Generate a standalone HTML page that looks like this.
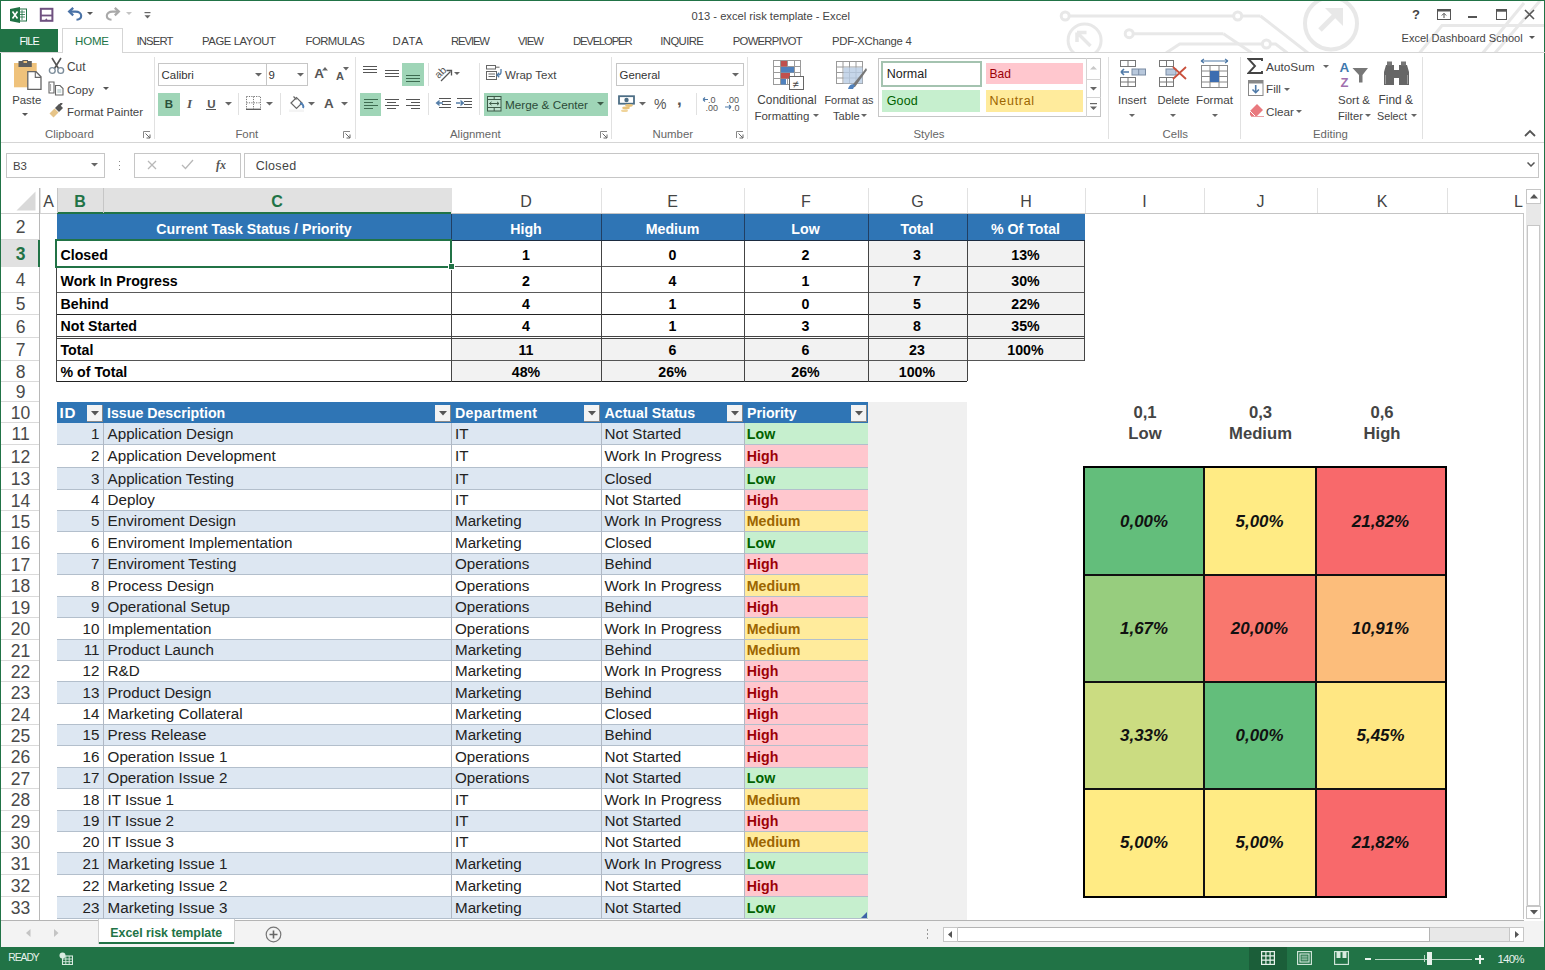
<!DOCTYPE html><html><head><meta charset="utf-8"><style>
html,body{margin:0;padding:0;}
body{width:1545px;height:970px;overflow:hidden;position:relative;background:#fff;font-family:"Liberation Sans", sans-serif;}
.a{position:absolute;}
.t{position:absolute;white-space:nowrap;}
</style></head><body>
<svg class="a" style="left:1040px;top:0px;" width="505" height="53" viewBox="0 0 505 53">
<g stroke="#e8e8e8" stroke-width="3" fill="none">
<circle cx="25.2" cy="16" r="4"/><line x1="29" y1="16" x2="194" y2="16"/>
<circle cx="197.7" cy="16" r="4"/><line x1="201.5" y1="16" x2="220.5" y2="16"/><line x1="220.5" y1="16" x2="268" y2="53"/>
<circle cx="44.6" cy="40.4" r="16.5"/><path d="M50.5 46 L38 33.5 M37 32.5 V42 M37 32.5 H46.5" stroke-width="3.5"/>
<circle cx="89.2" cy="33.7" r="4"/><line x1="93" y1="33.7" x2="183.4" y2="33.7"/><line x1="183.4" y1="33.7" x2="212" y2="53"/>
<path d="M126 53 L139.7 44 L222.6 44"/><circle cx="226.4" cy="44" r="4"/><path d="M230 44 L235.6 44 L247.4 53"/>
<circle cx="291" cy="23.4" r="26" stroke-width="4"/><path d="M280 30 L298 12" stroke-width="5"/><path d="M285 8 H303 V26 Z" fill="#e8e8e8" stroke="none"/>
<path d="M379.6 53 L402 25.5 L505 25.5"/><line x1="442.8" y1="53" x2="484" y2="3"/><line x1="455" y1="53" x2="505" y2="-5"/>
</g></svg>
<div class="a" style="left:0;top:0;width:1545px;height:1px;background:#217346"></div>
<div class="a" style="left:0;top:0;width:1px;height:970px;background:#217346"></div>
<div class="a" style="left:1544px;top:0;width:1px;height:970px;background:#217346"></div>
<svg class="a" style="left:10px;top:7px;" width="17" height="16" viewBox="0 0 17 16"><rect x="7" y="2" width="9.5" height="12" fill="#fff" stroke="#207245" stroke-width="1"/>
<path d="M9 5h6M9 7.5h6M9 10h6M12 3v10" stroke="#207245" stroke-width="0.8"/>
<path d="M0 2 L10 0 L10 16 L0 14 Z" fill="#207245"/>
<path d="M2.5 4.5 L7.5 11.5 M7.5 4.5 L2.5 11.5" stroke="#fff" stroke-width="1.6"/></svg>
<svg class="a" style="left:39px;top:7px;" width="15" height="15" viewBox="0 0 15 15"><rect x="1.8" y="1.8" width="11.6" height="12" fill="#fff" stroke="#6f5180" stroke-width="2"/>
<rect x="1.8" y="7.6" width="11.6" height="1.8" fill="#6f5180"/><path d="M5.5 13.8 L7.3 11.3 L9.1 13.8 Z" fill="#6f5180"/></svg>
<svg class="a" style="left:67px;top:7px;" width="16" height="15" viewBox="0 0 16 15"><path d="M2.5 4.6 H8.5 C12 4.6 14.2 6.5 14.2 8.8 C14.2 11 12.3 12.6 9.5 12.8" fill="none" stroke="#4a72a6" stroke-width="2.1"/>
<path d="M6.2 0.9 L2.2 4.6 L6.2 8.3" fill="none" stroke="#4a72a6" stroke-width="2.3"/></svg>
<svg class="a" style="left:87px;top:12px;" width="6" height="4" viewBox="0 0 6 4"><path d="M0 0h6l-3 3z" fill="#555"/></svg>
<svg class="a" style="left:105px;top:7px;" width="16" height="15" viewBox="0 0 16 15"><path d="M13.5 4.6 H7.5 C4 4.6 1.8 6.5 1.8 8.8 C1.8 11 3.7 12.6 6.5 12.8" fill="none" stroke="#a9a9a9" stroke-width="2.1"/>
<path d="M9.8 0.9 L13.8 4.6 L9.8 8.3" fill="none" stroke="#a9a9a9" stroke-width="2.3"/></svg>
<svg class="a" style="left:126px;top:12px;" width="6" height="4" viewBox="0 0 6 4"><path d="M0 0h6l-3 3z" fill="#c4c4c4"/></svg>
<svg class="a" style="left:144px;top:12px;" width="7" height="8" viewBox="0 0 7 8"><rect x="0.5" y="0" width="6" height="1.2" fill="#666"/><path d="M0.5 3.2h6l-3 3.2z" fill="#666"/></svg>
<div class="t" style="top:-4.50px;height:40px;line-height:40px;font-size:11.18px;color:#444;left:691.60px;">013 - excel risk template - Excel</div>
<div class="t" style="top:-5.00px;height:40px;line-height:40px;font-size:13px;color:#444;font-weight:bold;left:1406.00px;width:20px;text-align:center;">?</div>
<svg class="a" style="left:1437px;top:9px;" width="15" height="12" viewBox="0 0 15 12"><rect x="0.5" y="0.5" width="13" height="10" fill="none" stroke="#555" stroke-width="1"/><rect x="0.5" y="0.5" width="13" height="2" fill="#555"/><path d="M7 9V4.5M4.8 6.5L7 4.3L9.2 6.5" stroke="#555" stroke-width="1" fill="none"/></svg>
<div class="a" style="left:1468px;top:16px;width:9px;height:2px;background:#555;"></div>
<svg class="a" style="left:1496px;top:9px;" width="11" height="11" viewBox="0 0 11 11"><rect x="0.5" y="0.5" width="10" height="10" fill="none" stroke="#555" stroke-width="1"/><rect x="0.5" y="0.5" width="10" height="2.2" fill="#555"/></svg>
<svg class="a" style="left:1524px;top:9px;" width="11" height="11" viewBox="0 0 11 11"><path d="M1 1L10 10M10 1L1 10" stroke="#555" stroke-width="1.6"/></svg>
<div class="a" style="left:1px;top:29px;width:57px;height:23px;background:#217346;"></div>
<div class="t" style="top:20.50px;height:40px;line-height:40px;font-size:10.8px;color:#ffffff;letter-spacing:-0.836px;left:19.40px;">FILE</div>
<div class="a" style="left:62px;top:28px;width:61px;height:25px;background:#fff;border:1px solid #d5d5d5;border-bottom:none;box-sizing:border-box;"></div>
<div class="t" style="top:20.50px;height:40px;line-height:40px;font-size:11.5px;color:#217346;letter-spacing:-0.167px;left:75.00px;">HOME</div>
<div class="t" style="top:20.50px;height:40px;line-height:40px;font-size:11.3px;color:#444;letter-spacing:-0.847px;left:136.50px;">INSERT</div>
<div class="t" style="top:20.50px;height:40px;line-height:40px;font-size:11.3px;color:#444;letter-spacing:-0.408px;left:202.00px;">PAGE LAYOUT</div>
<div class="t" style="top:20.50px;height:40px;line-height:40px;font-size:11.3px;color:#444;letter-spacing:-0.512px;left:305.50px;">FORMULAS</div>
<div class="t" style="top:20.50px;height:40px;line-height:40px;font-size:11.3px;color:#444;letter-spacing:0.613px;left:392.40px;">DATA</div>
<div class="t" style="top:20.50px;height:40px;line-height:40px;font-size:11.3px;color:#444;letter-spacing:-1.116px;left:451.00px;">REVIEW</div>
<div class="t" style="top:20.50px;height:40px;line-height:40px;font-size:11.3px;color:#444;letter-spacing:-0.960px;left:518.00px;">VIEW</div>
<div class="t" style="top:20.50px;height:40px;line-height:40px;font-size:11.3px;color:#444;letter-spacing:-1.185px;left:573.00px;">DEVELOPER</div>
<div class="t" style="top:20.50px;height:40px;line-height:40px;font-size:11.3px;color:#444;letter-spacing:-0.598px;left:660.30px;">INQUIRE</div>
<div class="t" style="top:20.50px;height:40px;line-height:40px;font-size:11.3px;color:#444;letter-spacing:-0.744px;left:732.80px;">POWERPIVOT</div>
<div class="t" style="top:20.50px;height:40px;line-height:40px;font-size:11.3px;color:#444;letter-spacing:-0.259px;left:832.00px;">PDF-XChange 4</div>
<div class="t" style="top:18.00px;height:40px;line-height:40px;font-size:11.07px;color:#444;left:1401.50px;">Excel Dashboard School</div>
<svg class="a" style="left:1529px;top:36px;" width="6" height="4" viewBox="0 0 6 4"><path d="M0 0h6l-3 3z" fill="#555"/></svg>
<div class="a" style="left:0px;top:52px;width:62px;height:1px;background:#d5d5d5;"></div>
<div class="a" style="left:123px;top:52px;width:1422px;height:1px;background:#d5d5d5;"></div>
<div class="a" style="left:1px;top:142px;width:1543px;height:1px;background:#d5d5d5;"></div>
<div class="a" style="left:154px;top:57px;width:1px;height:82px;background:#e1e1e1;"></div>
<div class="a" style="left:355px;top:57px;width:1px;height:82px;background:#e1e1e1;"></div>
<div class="a" style="left:611px;top:57px;width:1px;height:82px;background:#e1e1e1;"></div>
<div class="a" style="left:747px;top:57px;width:1px;height:82px;background:#e1e1e1;"></div>
<div class="a" style="left:1108px;top:57px;width:1px;height:82px;background:#e1e1e1;"></div>
<div class="a" style="left:1240px;top:57px;width:1px;height:82px;background:#e1e1e1;"></div>
<div class="a" style="left:1422px;top:57px;width:1px;height:82px;background:#e1e1e1;"></div>
<div class="t" style="top:114.00px;height:40px;line-height:40px;font-size:11.4px;color:#666;left:45.00px;">Clipboard</div>
<div class="t" style="top:114.00px;height:40px;line-height:40px;font-size:11.4px;color:#666;left:235.40px;">Font</div>
<div class="t" style="top:114.00px;height:40px;line-height:40px;font-size:11.4px;color:#666;left:450.00px;">Alignment</div>
<div class="t" style="top:114.00px;height:40px;line-height:40px;font-size:11.4px;color:#666;left:652.50px;">Number</div>
<div class="t" style="top:114.00px;height:40px;line-height:40px;font-size:11.4px;color:#666;left:913.50px;">Styles</div>
<div class="t" style="top:114.00px;height:40px;line-height:40px;font-size:11.4px;color:#666;left:1162.60px;">Cells</div>
<div class="t" style="top:114.00px;height:40px;line-height:40px;font-size:11.4px;color:#666;left:1313.00px;">Editing</div>
<svg class="a" style="left:143px;top:131px;" width="8" height="8" viewBox="0 0 8 8"><path d="M0.5 7V0.5H7" fill="none" stroke="#888" stroke-width="1"/><path d="M2.5 2.5L7 7M7 3.5V7H3.5" fill="none" stroke="#666" stroke-width="1"/></svg>
<svg class="a" style="left:343px;top:131px;" width="8" height="8" viewBox="0 0 8 8"><path d="M0.5 7V0.5H7" fill="none" stroke="#888" stroke-width="1"/><path d="M2.5 2.5L7 7M7 3.5V7H3.5" fill="none" stroke="#666" stroke-width="1"/></svg>
<svg class="a" style="left:600px;top:131px;" width="8" height="8" viewBox="0 0 8 8"><path d="M0.5 7V0.5H7" fill="none" stroke="#888" stroke-width="1"/><path d="M2.5 2.5L7 7M7 3.5V7H3.5" fill="none" stroke="#666" stroke-width="1"/></svg>
<svg class="a" style="left:736px;top:131px;" width="8" height="8" viewBox="0 0 8 8"><path d="M0.5 7V0.5H7" fill="none" stroke="#888" stroke-width="1"/><path d="M2.5 2.5L7 7M7 3.5V7H3.5" fill="none" stroke="#666" stroke-width="1"/></svg>
<svg class="a" style="left:1524px;top:129px;" width="12" height="8" viewBox="0 0 12 8"><path d="M1 7L6 2L11 7" fill="none" stroke="#555" stroke-width="1.8"/></svg>
<svg class="a" style="left:13px;top:59px;" width="29" height="32" viewBox="0 0 29 32">
<rect x="1" y="4" width="22.7" height="24.3" fill="#efc27b"/>
<path d="M5.5 2 H9.4 V1 H15 V2 H18.8 V8 H5.5 Z" fill="#5e5e5e"/>
<rect x="10.5" y="2" width="3.5" height="2" fill="#efc27b"/>
<path d="M14.8 12.7 H23 L28 17.7 V30.3 H14.8 Z" fill="#fff" stroke="#666" stroke-width="1.3"/>
<path d="M22.3 12.7 V18.4 H28" fill="none" stroke="#666" stroke-width="1.1"/>
</svg>
<div class="t" style="top:80.00px;height:40px;line-height:40px;font-size:11.4px;color:#444;left:12.20px;">Paste</div>
<svg class="a" style="left:22px;top:113px;" width="6" height="4" viewBox="0 0 6 4"><path d="M0 0h6l-3 3z" fill="#555"/></svg>
<svg class="a" style="left:48px;top:57px;" width="17" height="18" viewBox="0 0 17 18">
<path d="M4 1 L10.5 11.5 M13 1 L6.5 11.5" stroke="#555" stroke-width="1.6" fill="none"/>
<circle cx="4.3" cy="13.5" r="2.9" fill="none" stroke="#7b8c9a" stroke-width="1.4"/>
<circle cx="12.7" cy="13.5" r="2.9" fill="none" stroke="#7b8c9a" stroke-width="1.4"/></svg>
<div class="t" style="top:47.00px;height:40px;line-height:40px;font-size:11.9px;color:#444;left:67.00px;">Cut</div>
<svg class="a" style="left:48px;top:81px;" width="17" height="15" viewBox="0 0 17 15">
<path d="M1 1 H6 V12 H1 Z" fill="#fff" stroke="#666" stroke-width="1.1"/>
<path d="M2.6 3v7" stroke="#888" stroke-width="0.8"/>
<path d="M7.5 4.5 H12 L15 7.5 V14 H7.5 Z" fill="#fff" stroke="#666" stroke-width="1.1"/>
<path d="M9.3 9h4M9.3 11h4" stroke="#8aa" stroke-width="0.8"/></svg>
<div class="t" style="top:69.50px;height:40px;line-height:40px;font-size:11.6px;color:#444;left:67.00px;">Copy</div>
<svg class="a" style="left:103px;top:87px;" width="6" height="4" viewBox="0 0 6 4"><path d="M0 0h6l-3 3z" fill="#555"/></svg>
<svg class="a" style="left:48px;top:103px;" width="17" height="15" viewBox="0 0 17 15">
<path d="M1.5 10.5 L6.5 5.5 L10.5 9.5 L5.5 14.5 Z" fill="#e6c488"/>
<path d="M7 5 L11 1 L15 5 L11 9 Z" fill="#555"/>
<path d="M11.5 2.5 L14 0" stroke="#555" stroke-width="2.2"/></svg>
<div class="t" style="top:91.50px;height:40px;line-height:40px;font-size:11.5px;color:#444;left:67.00px;">Format Painter</div>
<div class="a" style="left:158px;top:63px;width:109px;height:23px;background:#fff;border:1px solid #c6c6c6;box-sizing:border-box;"></div>
<div class="t" style="top:54.50px;height:40px;line-height:40px;font-size:11.4px;color:#333;left:161.60px;">Calibri</div>
<svg class="a" style="left:255px;top:73px;" width="7" height="4" viewBox="0 0 7 4"><path d="M0 0h7l-3.5 3.5z" fill="#666"/></svg>
<div class="a" style="left:266px;top:63px;width:42px;height:23px;background:#fff;border:1px solid #c6c6c6;box-sizing:border-box;"></div>
<div class="t" style="top:54.50px;height:40px;line-height:40px;font-size:11.4px;color:#333;left:268.40px;">9</div>
<svg class="a" style="left:297px;top:73px;" width="7" height="4" viewBox="0 0 7 4"><path d="M0 0h7l-3.5 3.5z" fill="#666"/></svg>
<div class="t" style="top:54.00px;height:40px;line-height:40px;font-size:13.5px;color:#555;left:314.20px;font-weight:bold;">A</div>
<svg class="a" style="left:322px;top:67px;" width="6" height="4" viewBox="0 0 6 4"><path d="M0 3.5h6l-3-3.5z" fill="#666"/></svg>
<div class="t" style="top:55.50px;height:40px;line-height:40px;font-size:11px;color:#555;left:336.00px;font-weight:bold;">A</div>
<svg class="a" style="left:343px;top:67px;" width="6" height="4" viewBox="0 0 6 4"><path d="M0 0h6l-3 3.5z" fill="#666"/></svg>
<div class="a" style="left:158px;top:93px;width:22px;height:23px;background:#9fd5b7;"></div>
<div class="t" style="top:83.80px;height:40px;line-height:40px;font-size:11.5px;color:#2b503a;font-weight:bold;left:159.00px;width:20px;text-align:center;">B</div>
<div class="t" style="top:83.80px;height:40px;line-height:40px;font-size:13px;color:#555;font-style:italic;left:179.50px;width:20px;text-align:center;font-family:'Liberation Serif',serif;font-weight:bold;">I</div>
<div class="t" style="top:83.50px;height:40px;line-height:40px;font-size:11.5px;color:#555;font-weight:bold;left:201.30px;width:20px;text-align:center;">U</div>
<div class="a" style="left:206px;top:109px;width:10px;height:1px;background:#555;"></div>
<svg class="a" style="left:225px;top:102px;" width="7" height="4" viewBox="0 0 7 4"><path d="M0 0h7l-3.5 3.5z" fill="#666"/></svg>
<div class="a" style="left:238px;top:93px;width:1px;height:22px;background:#e1e1e1;"></div>
<svg class="a" style="left:246px;top:96px;" width="15" height="14" viewBox="0 0 15 14"><g fill="none" stroke="#777" stroke-width="1" stroke-dasharray="1.2 1.2">
<path d="M0.5 0.5H14.5V13M0.5 0.5V13M7.5 0.5V13M0.5 6.8H14.5"/></g><path d="M0 13.3H15" stroke="#555" stroke-width="1.3"/></svg>
<svg class="a" style="left:266px;top:102px;" width="7" height="4" viewBox="0 0 7 4"><path d="M0 0h7l-3.5 3.5z" fill="#666"/></svg>
<div class="a" style="left:280px;top:93px;width:1px;height:22px;background:#e1e1e1;"></div>
<svg class="a" style="left:288px;top:95px;" width="17" height="17" viewBox="0 0 17 17"><path d="M3 8 L8.5 2.5 L14 8 L8.5 13.5 Z" fill="#fff" stroke="#666" stroke-width="1.2"/>
<path d="M5.5 1.5 L8.5 4.5" stroke="#666" stroke-width="1.2"/>
<path d="M12 8 C 15 9, 16 11, 15 13" stroke="#4f7fb5" stroke-width="2" fill="none"/>
<rect x="1" y="14.5" width="15" height="2.5" fill="#f4f4f4"/></svg>
<svg class="a" style="left:308px;top:102px;" width="7" height="4" viewBox="0 0 7 4"><path d="M0 0h7l-3.5 3.5z" fill="#666"/></svg>
<div class="t" style="top:83.50px;height:40px;line-height:40px;font-size:13.5px;color:#555;font-weight:bold;left:324.00px;">A</div>
<svg class="a" style="left:341px;top:102px;" width="7" height="4" viewBox="0 0 7 4"><path d="M0 0h7l-3.5 3.5z" fill="#666"/></svg>
<div class="a" style="left:363px;top:66px;width:14px;height:1.3px;background:#555;"></div>
<div class="a" style="left:363px;top:69px;width:14px;height:1.3px;background:#555;"></div>
<div class="a" style="left:363px;top:72px;width:14px;height:1.3px;background:#555;"></div>
<div class="a" style="left:385px;top:70px;width:13.5px;height:1.3px;background:#555;"></div>
<div class="a" style="left:385px;top:73px;width:13.5px;height:1.3px;background:#555;"></div>
<div class="a" style="left:385px;top:76px;width:13.5px;height:1.3px;background:#555;"></div>
<div class="a" style="left:402px;top:63px;width:22px;height:23px;background:#9fd5b7;"></div>
<div class="a" style="left:406px;top:75px;width:13.5px;height:1.3px;background:#3d6b50;"></div>
<div class="a" style="left:406px;top:78px;width:13.5px;height:1.3px;background:#3d6b50;"></div>
<div class="a" style="left:406px;top:81px;width:13.5px;height:1.3px;background:#3d6b50;"></div>
<div class="a" style="left:428px;top:63px;width:1px;height:23px;background:#e1e1e1;"></div>
<svg class="a" style="left:434px;top:65px;" width="19" height="17" viewBox="0 0 19 17"><g transform="rotate(-45 6.5 7.5)"><text x="6.5" y="11" text-anchor="middle" font-family="Liberation Sans" font-size="10.5" fill="#555">ab</text></g>
<path d="M7 16 L16.5 6.5" stroke="#555" stroke-width="1.3"/><path d="M12.5 5.5 L17.5 5.5 L17.5 10.5" fill="none" stroke="#555" stroke-width="1.3"/></svg>
<svg class="a" style="left:454px;top:72px;" width="6" height="4" viewBox="0 0 6 4"><path d="M0 0h6l-3 3z" fill="#666"/></svg>
<div class="a" style="left:360px;top:93px;width:21px;height:23px;background:#9fd5b7;"></div>
<div class="a" style="left:364px;top:99px;width:13.5px;height:1.3px;background:#3d6b50;"></div>
<div class="a" style="left:364px;top:102px;width:9px;height:1.3px;background:#3d6b50;"></div>
<div class="a" style="left:364px;top:105px;width:13.5px;height:1.3px;background:#3d6b50;"></div>
<div class="a" style="left:364px;top:108px;width:9px;height:1.3px;background:#3d6b50;"></div>
<div class="a" style="left:385.0px;top:99px;width:13.5px;height:1.3px;background:#555;"></div>
<div class="a" style="left:387.2px;top:102px;width:9px;height:1.3px;background:#555;"></div>
<div class="a" style="left:385.0px;top:105px;width:13.5px;height:1.3px;background:#555;"></div>
<div class="a" style="left:387.2px;top:108px;width:9px;height:1.3px;background:#555;"></div>
<div class="a" style="left:406.0px;top:99px;width:13.5px;height:1.3px;background:#555;"></div>
<div class="a" style="left:410.5px;top:102px;width:9px;height:1.3px;background:#555;"></div>
<div class="a" style="left:406.0px;top:105px;width:13.5px;height:1.3px;background:#555;"></div>
<div class="a" style="left:410.5px;top:108px;width:9px;height:1.3px;background:#555;"></div>
<div class="a" style="left:428px;top:93px;width:1px;height:22px;background:#e1e1e1;"></div>
<svg class="a" style="left:435px;top:97px;" width="17" height="14" viewBox="0 0 17 14"><path d="M4 1.5H16M7 4.5H16M7 7.5H16M4 10.5H16" stroke="#555" stroke-width="1.1"/><path d="M0.5 6 L4.5 2.8 V9.2 Z M3 5.3H8V6.7H3Z" fill="#557ea8"/></svg>
<svg class="a" style="left:456px;top:97px;" width="17" height="14" viewBox="0 0 17 14"><path d="M1 1.5H16M8 4.5H16M8 7.5H16M1 10.5H16" stroke="#555" stroke-width="1.1"/><path d="M8.5 6 L4.5 2.8 V9.2 Z M0 5.3H5V6.7H0Z" fill="#557ea8"/></svg>
<div class="a" style="left:479px;top:63px;width:1px;height:52px;background:#e1e1e1;"></div>
<svg class="a" style="left:486px;top:65px;" width="17" height="15" viewBox="0 0 17 15"><g fill="none" stroke="#666" stroke-width="1"><rect x="0.5" y="0.5" width="9" height="3.5"/><path d="M9.5 2.2H13.5"/><rect x="0.5" y="6.5" width="10" height="8"/><path d="M2.5 9H9M2.5 11.5H9"/></g>
<path d="M15 4 V7 C15 9.5 13.5 10 11.5 10" fill="none" stroke="#4f7aa8" stroke-width="1.3"/><path d="M13.2 7.8 L11 10 L13.2 12.2" fill="none" stroke="#4f7aa8" stroke-width="1.3"/></svg>
<div class="t" style="top:54.50px;height:40px;line-height:40px;font-size:11.5px;color:#444;left:505.00px;">Wrap Text</div>
<div class="a" style="left:484px;top:93px;width:124px;height:23px;background:#9fd5b7;"></div>
<svg class="a" style="left:487px;top:96px;" width="15" height="16" viewBox="0 0 15 16"><rect x="0.5" y="0.5" width="13.5" height="14.5" fill="#fff" fill-opacity="0.35" stroke="#3d5b48" stroke-width="1"/>
<path d="M0.5 3.5H14M0.5 11.5H14M7.2 0.5V3.5M7.2 11.5V15" fill="none" stroke="#3d5b48" stroke-width="1"/>
<path d="M2.5 7.5H12M2.5 7.5l2-1.6M2.5 7.5l2 1.6M12 7.5l-2-1.6M12 7.5l-2 1.6" fill="none" stroke="#3d5b48" stroke-width="1"/></svg>
<div class="t" style="top:84.50px;height:40px;line-height:40px;font-size:11.76px;color:#2b4a38;left:505.00px;">Merge &amp; Center</div>
<svg class="a" style="left:597px;top:102px;" width="7" height="4" viewBox="0 0 7 4"><path d="M0 0h7l-3.5 3.5z" fill="#3d5b48"/></svg>
<div class="a" style="left:616px;top:63px;width:128px;height:23px;background:#fff;border:1px solid #c6c6c6;box-sizing:border-box;"></div>
<div class="t" style="top:54.50px;height:40px;line-height:40px;font-size:11.4px;color:#333;left:619.60px;">General</div>
<svg class="a" style="left:732px;top:73px;" width="7" height="4" viewBox="0 0 7 4"><path d="M0 0h7l-3.5 3.5z" fill="#666"/></svg>
<svg class="a" style="left:618px;top:95px;" width="18" height="18" viewBox="0 0 18 18"><rect x="1" y="1.2" width="15" height="7.5" fill="#fff" stroke="#4d6e85" stroke-width="1.8"/>
<circle cx="8.5" cy="5" r="2.2" fill="#4d6e85"/>
<ellipse cx="11" cy="10.5" rx="3.8" ry="1.4" fill="#e8c27a"/><ellipse cx="8" cy="13" rx="3.8" ry="1.4" fill="#e8c27a"/><ellipse cx="6.5" cy="15.8" rx="3.5" ry="1.3" fill="#f0d49a"/></svg>
<svg class="a" style="left:639px;top:102px;" width="7" height="4" viewBox="0 0 7 4"><path d="M0 0h7l-3.5 3.5z" fill="#666"/></svg>
<div class="t" style="top:84.00px;height:40px;line-height:40px;font-size:14px;color:#555;left:654.00px;">%</div>
<div class="t" style="top:80.00px;height:40px;line-height:40px;font-size:17px;color:#555;font-weight:bold;left:677.00px;">,</div>
<div class="a" style="left:696px;top:93px;width:1px;height:22px;background:#e1e1e1;"></div>
<svg class="a" style="left:702px;top:95px;" width="17" height="17" viewBox="0 0 17 17"><text x="6" y="8" font-family="Liberation Sans" font-size="9" fill="#555">.0</text><text x="3.5" y="15.5" font-family="Liberation Sans" font-size="9" fill="#555">.00</text>
<path d="M1 4.5H6M1 4.5l2-2M1 4.5l2 2" fill="none" stroke="#4f7aa8" stroke-width="1.1"/></svg>
<svg class="a" style="left:724px;top:95px;" width="17" height="17" viewBox="0 0 17 17"><text x="2.5" y="8" font-family="Liberation Sans" font-size="9" fill="#555">.00</text><text x="8" y="15.5" font-family="Liberation Sans" font-size="9" fill="#555">.0</text>
<path d="M1 12H7M7 12l-2-2M7 12l-2 2" fill="none" stroke="#4f7aa8" stroke-width="1.1"/></svg>
<svg class="a" style="left:772px;top:59px;" width="33" height="32" viewBox="0 0 33 32"><g fill="none" stroke="#9a9a9a" stroke-width="1"><rect x="1.5" y="1.5" width="27" height="24"/>
<path d="M1.5 7.5H28.5M1.5 13.5H28.5M1.5 19.5H28.5M8.5 1.5V25.5M15.5 1.5V25.5M22.5 1.5V25.5"/></g>
<rect x="9" y="2" width="6" height="5.5" fill="#c0504d"/><rect x="9" y="8" width="13" height="5.5" fill="#4f81bd"/><rect x="9" y="14" width="9" height="5.5" fill="#c0504d"/><rect x="9" y="20" width="5" height="5.5" fill="#4f81bd"/>
<rect x="17.5" y="17.5" width="14" height="13" fill="#fff" stroke="#666" stroke-width="1"/>
<text x="20.5" y="28.5" font-family="Liberation Sans" font-size="11" fill="#444">≠</text></svg>
<div class="t" style="top:80.00px;height:40px;line-height:40px;font-size:11.85px;color:#444;left:757.30px;">Conditional</div>
<div class="t" style="top:95.50px;height:40px;line-height:40px;font-size:11.5px;color:#444;left:754.40px;">Formatting</div>
<svg class="a" style="left:813px;top:114px;" width="6" height="4" viewBox="0 0 6 4"><path d="M0 0h6l-3 3z" fill="#666"/></svg>
<svg class="a" style="left:835px;top:60px;" width="33" height="31" viewBox="0 0 33 31"><g fill="none" stroke="#9a9a9a" stroke-width="1"><rect x="1.5" y="1.5" width="26" height="22"/>
<path d="M1.5 7H27.5M1.5 12.5H27.5M1.5 18H27.5M8 1.5V23.5M14.5 1.5V23.5M21 1.5V23.5"/></g>
<rect x="8.5" y="7.5" width="19" height="16" fill="#b8cce4" opacity="0.8"/>
<path d="M15 28 L28 12 L31 8 L32 10 L20 27 Z" fill="#777"/><path d="M13 29 C 14 25, 17 23, 20 25 L 18 29 Z" fill="#4f81bd"/></svg>
<div class="t" style="top:80.00px;height:40px;line-height:40px;font-size:10.93px;color:#444;left:824.40px;">Format as</div>
<div class="t" style="top:95.50px;height:40px;line-height:40px;font-size:11.2px;color:#444;left:833.00px;">Table</div>
<svg class="a" style="left:861px;top:114px;" width="6" height="4" viewBox="0 0 6 4"><path d="M0 0h6l-3 3z" fill="#666"/></svg>
<div class="a" style="left:878px;top:58px;width:223px;height:59px;background:#fff;border:1px solid #c6c6c6;box-sizing:border-box;"></div>
<div class="a" style="left:881px;top:61px;width:101px;height:26px;background:#fff;border:2px solid #a4c3b0;box-sizing:border-box;"></div>
<div class="t" style="top:54.00px;height:40px;line-height:40px;font-size:12.5px;color:#222;left:886.70px;">Normal</div>
<div class="a" style="left:986px;top:63px;width:97px;height:21px;background:#ffc7ce;"></div>
<div class="t" style="top:54.00px;height:40px;line-height:40px;font-size:12.03px;color:#9c0006;left:989.60px;">Bad</div>
<div class="a" style="left:882px;top:90px;width:98px;height:22px;background:#c6efce;"></div>
<div class="t" style="top:81.00px;height:40px;line-height:40px;font-size:12.5px;color:#006100;letter-spacing:0.140px;left:886.70px;">Good</div>
<div class="a" style="left:986px;top:90px;width:97px;height:22px;background:#ffeb9c;"></div>
<div class="t" style="top:81.00px;height:40px;line-height:40px;font-size:12.5px;color:#9c6500;letter-spacing:0.701px;left:989.60px;">Neutral</div>
<div class="a" style="left:1086px;top:58px;width:1px;height:59px;background:#d4d4d4;"></div>
<div class="a" style="left:1086px;top:79px;width:15px;height:1px;background:#d4d4d4;"></div>
<div class="a" style="left:1086px;top:97px;width:15px;height:1px;background:#d4d4d4;"></div>
<svg class="a" style="left:1090px;top:66px;" width="7" height="4" viewBox="0 0 7 4"><path d="M0 3.5h7l-3.5-3.5z" fill="#c8c8c8"/></svg>
<svg class="a" style="left:1090px;top:87px;" width="7" height="4" viewBox="0 0 7 4"><path d="M0 0h7l-3.5 3.5z" fill="#666"/></svg>
<svg class="a" style="left:1090px;top:103px;" width="7" height="8" viewBox="0 0 7 8"><rect x="0" y="0" width="7" height="1.2" fill="#666"/><path d="M0 3.5h7l-3.5 3.5z" fill="#666"/></svg>
<svg class="a" style="left:1119px;top:59px;" width="28" height="29" viewBox="0 0 28 29"><g fill="none" stroke="#777" stroke-width="1"><rect x="1.5" y="1.5" width="15" height="6"/><path d="M9 1.5V7.5"/>
<rect x="1.5" y="18.5" width="15" height="9"/><path d="M1.5 23H16.5M9 18.5V27.5"/></g>
<rect x="13" y="10" width="13.5" height="6" fill="#b8c8dc" stroke="#7a8ca3" stroke-width="1"/><path d="M19.7 10V16"  stroke="#7a8ca3" stroke-width="1"/>
<path d="M2 13H10M2 13l3-3M2 13l3 3" fill="none" stroke="#4f7aa8" stroke-width="1.6"/></svg>
<div class="t" style="top:80.00px;height:40px;line-height:40px;font-size:11.36px;color:#444;left:1118.00px;">Insert</div>
<svg class="a" style="left:1129px;top:114px;" width="6" height="4" viewBox="0 0 6 4"><path d="M0 0h6l-3 3z" fill="#666"/></svg>
<svg class="a" style="left:1158px;top:59px;" width="33" height="30" viewBox="0 0 33 30"><g fill="none" stroke="#777" stroke-width="1"><rect x="1.5" y="1.5" width="14" height="6"/><path d="M8.5 1.5V7.5"/>
<rect x="1.5" y="18.5" width="14" height="9"/><path d="M1.5 23H15.5M8.5 18.5V27.5"/></g>
<rect x="8" y="10" width="10" height="6" fill="#b8c8dc" stroke="#7a8ca3" stroke-width="1"/>
<path d="M15 8 L28 20 M28 8 L15 20" stroke="#c9503c" stroke-width="1.8"/></svg>
<div class="t" style="top:80.00px;height:40px;line-height:40px;font-size:11.1px;color:#444;left:1157.40px;">Delete</div>
<svg class="a" style="left:1170px;top:114px;" width="6" height="4" viewBox="0 0 6 4"><path d="M0 0h6l-3 3z" fill="#666"/></svg>
<svg class="a" style="left:1200px;top:58px;" width="29" height="32" viewBox="0 0 29 32"><path d="M1 3H28M1 3l3-2M1 3l3 2M28 3l-3-2M28 3l-3 2" fill="none" stroke="#4f7aa8" stroke-width="1.1"/>
<g fill="none" stroke="#888" stroke-width="1"><rect x="1.5" y="7.5" width="26" height="22"/><path d="M1.5 13H27.5M1.5 18.5H27.5M1.5 24H27.5M10 7.5V29.5M19 7.5V29.5"/></g>
<rect x="10" y="13" width="9" height="11" fill="#3c6db0"/></svg>
<div class="t" style="top:80.00px;height:40px;line-height:40px;font-size:11.68px;color:#444;left:1196.00px;">Format</div>
<svg class="a" style="left:1212px;top:114px;" width="6" height="4" viewBox="0 0 6 4"><path d="M0 0h6l-3 3z" fill="#666"/></svg>
<svg class="a" style="left:1247px;top:58px;" width="16" height="16" viewBox="0 0 16 16"><path d="M15 3V1H1.5L8 8L1.5 15H15V13" fill="none" stroke="#444" stroke-width="1.9" stroke-linejoin="miter"/></svg>
<div class="t" style="top:47.00px;height:40px;line-height:40px;font-size:11.82px;color:#444;left:1266.00px;">AutoSum</div>
<svg class="a" style="left:1323px;top:65px;" width="6" height="4" viewBox="0 0 6 4"><path d="M0 0h6l-3 3z" fill="#666"/></svg>
<svg class="a" style="left:1248px;top:80px;" width="16" height="16" viewBox="0 0 16 16"><rect x="0.5" y="0.5" width="14.5" height="15" fill="#fff" stroke="#888" stroke-width="1"/><rect x="0.5" y="0.5" width="14.5" height="3" fill="#888"/>
<path d="M7.7 5V12.5M4.5 9.5L7.7 12.7L10.9 9.5" fill="none" stroke="#4f7aa8" stroke-width="1.6"/></svg>
<div class="t" style="top:69.30px;height:40px;line-height:40px;font-size:11.7px;color:#444;left:1266.00px;">Fill</div>
<svg class="a" style="left:1284px;top:88px;" width="6" height="4" viewBox="0 0 6 4"><path d="M0 0h6l-3 3z" fill="#666"/></svg>
<svg class="a" style="left:1248px;top:102px;" width="17" height="15" viewBox="0 0 17 15"><path d="M2 9 L9 2 L15 8 L8 15 H4 L2 13 Z" fill="#e9797e"/><path d="M2 9 L8 15" stroke="#fff" stroke-width="1"/><path d="M3 14.5 H16" stroke="#e9a0a3" stroke-width="1"/></svg>
<div class="t" style="top:92.00px;height:40px;line-height:40px;font-size:11.7px;color:#444;left:1266.00px;">Clear</div>
<svg class="a" style="left:1296px;top:110px;" width="6" height="4" viewBox="0 0 6 4"><path d="M0 0h6l-3 3z" fill="#666"/></svg>
<svg class="a" style="left:1339px;top:59px;" width="31" height="29" viewBox="0 0 31 29"><text x="0.5" y="13" font-family="Liberation Sans" font-weight="bold" font-size="13.5" fill="#3f78ad">A</text><text x="1.5" y="27.5" font-family="Liberation Sans" font-weight="bold" font-size="13" fill="#a16fae">Z</text>
<path d="M13.5 9 H29 L23.5 16 V23.5 L20 23.5 V16 Z" fill="#777"/></svg>
<div class="t" style="top:80.00px;height:40px;line-height:40px;font-size:11.5px;color:#444;left:1338.00px;">Sort &amp;</div>
<div class="t" style="top:95.50px;height:40px;line-height:40px;font-size:11.2px;color:#444;left:1338.00px;">Filter</div>
<svg class="a" style="left:1365px;top:114px;" width="6" height="4" viewBox="0 0 6 4"><path d="M0 0h6l-3 3z" fill="#666"/></svg>
<svg class="a" style="left:1383px;top:61px;" width="27" height="25" viewBox="0 0 27 25"><path d="M1 11 L3 4 H11 V24 H1 Z M26 11 L24 4 H16 V24 H26 Z" fill="#666"/><rect x="10" y="9" width="7" height="8" fill="#666"/>
<rect x="4" y="0.5" width="5" height="4" fill="#777"/><rect x="18" y="0.5" width="5" height="4" fill="#777"/><path d="M2.5 14V23M24.5 14V23" stroke="#aaa" stroke-width="0.8"/></svg>
<div class="t" style="top:80.00px;height:40px;line-height:40px;font-size:11.94px;color:#444;left:1378.50px;">Find &amp;</div>
<div class="t" style="top:95.50px;height:40px;line-height:40px;font-size:10.79px;color:#444;left:1377.00px;">Select</div>
<svg class="a" style="left:1411px;top:114px;" width="6" height="4" viewBox="0 0 6 4"><path d="M0 0h6l-3 3z" fill="#666"/></svg>
<div class="a" style="left:6px;top:153px;width:99px;height:25px;background:#fff;border:1px solid #c6c6c6;box-sizing:border-box;"></div>
<div class="t" style="top:145.50px;height:40px;line-height:40px;font-size:11.4px;color:#444;left:13.00px;">B3</div>
<svg class="a" style="left:91px;top:163px;" width="7" height="4" viewBox="0 0 7 4"><path d="M0 0h7l-3.5 3.5z" fill="#666"/></svg>
<div class="a" style="left:118.5px;top:160.5px;width:1.5px;height:1.5px;background:#888;"></div>
<div class="a" style="left:118.5px;top:164.5px;width:1.5px;height:1.5px;background:#888;"></div>
<div class="a" style="left:118.5px;top:168.5px;width:1.5px;height:1.5px;background:#888;"></div>
<div class="a" style="left:134px;top:153px;width:107px;height:25px;background:#fff;border:1px solid #c6c6c6;box-sizing:border-box;"></div>
<svg class="a" style="left:147px;top:160px;" width="10" height="10" viewBox="0 0 10 10"><path d="M1 1L9 9M9 1L1 9" stroke="#b8b8b8" stroke-width="1.3"/></svg>
<svg class="a" style="left:181px;top:159px;" width="13" height="11" viewBox="0 0 13 11"><path d="M1 6L4.5 9.5L12 1" fill="none" stroke="#b8b8b8" stroke-width="1.3"/></svg>
<div class="t" style="top:145.00px;height:40px;line-height:40px;font-size:12px;color:#555;font-style:italic;left:216.00px;font-family:'Liberation Serif',serif;font-weight:bold;">fx</div>
<div class="a" style="left:244px;top:153px;width:1295px;height:25px;background:#fff;border:1px solid #c6c6c6;box-sizing:border-box;"></div>
<div class="t" style="top:145.50px;height:40px;line-height:40px;font-size:12.5px;color:#444;letter-spacing:0.298px;left:255.70px;">Closed</div>
<svg class="a" style="left:1527px;top:162px;" width="8" height="5" viewBox="0 0 8 5"><path d="M0.5 0.5L4 4L7.5 0.5" fill="none" stroke="#555" stroke-width="1.5"/></svg>
<div class="a" style="left:40px;top:188px;width:1484px;height:26px;background:#fff;"></div>
<div class="a" style="left:57px;top:188px;width:394px;height:26px;background:#e1e1e1;"></div>
<div class="a" style="left:57px;top:212px;width:394px;height:2px;background:#217346;"></div>
<div class="a" style="left:1px;top:213px;width:56px;height:1px;background:#d0d0d0;"></div>
<div class="a" style="left:451px;top:213px;width:1073px;height:1px;background:#c4c4c4;"></div>
<div class="a" style="left:40px;top:188px;width:1px;height:25px;background:#e1e1e1;"></div>
<div class="a" style="left:57px;top:188px;width:1px;height:25px;background:#c6c6c6;"></div>
<div class="a" style="left:103px;top:188px;width:1px;height:25px;background:#c6c6c6;"></div>
<div class="a" style="left:451px;top:188px;width:1px;height:25px;background:#e1e1e1;"></div>
<div class="a" style="left:601px;top:188px;width:1px;height:25px;background:#e1e1e1;"></div>
<div class="a" style="left:744px;top:188px;width:1px;height:25px;background:#e1e1e1;"></div>
<div class="a" style="left:868px;top:188px;width:1px;height:25px;background:#e1e1e1;"></div>
<div class="a" style="left:967px;top:188px;width:1px;height:25px;background:#e1e1e1;"></div>
<div class="a" style="left:1085px;top:188px;width:1px;height:25px;background:#e1e1e1;"></div>
<div class="a" style="left:1204px;top:188px;width:1px;height:25px;background:#e1e1e1;"></div>
<div class="a" style="left:1317px;top:188px;width:1px;height:25px;background:#e1e1e1;"></div>
<div class="a" style="left:1447px;top:188px;width:1px;height:25px;background:#e1e1e1;"></div>
<div class="a" style="left:39px;top:188px;width:1px;height:732px;background:#b8b8b8;"></div>
<svg class="a" style="left:16px;top:191px;" width="20" height="20" viewBox="0 0 20 20"><path d="M19.5 0.5V19.5H0.5Z" fill="#d9d9d9"/></svg>
<div class="t" style="top:181.50px;height:40px;line-height:40px;font-size:16px;color:#444;left:-1.50px;width:100px;text-align:center;">A</div>
<div class="t" style="top:181.50px;height:40px;line-height:40px;font-size:16px;color:#217346;font-weight:bold;left:30.00px;width:100px;text-align:center;">B</div>
<div class="t" style="top:181.50px;height:40px;line-height:40px;font-size:16px;color:#217346;font-weight:bold;left:227.00px;width:100px;text-align:center;">C</div>
<div class="t" style="top:181.50px;height:40px;line-height:40px;font-size:16px;color:#444;left:476.00px;width:100px;text-align:center;">D</div>
<div class="t" style="top:181.50px;height:40px;line-height:40px;font-size:16px;color:#444;left:622.50px;width:100px;text-align:center;">E</div>
<div class="t" style="top:181.50px;height:40px;line-height:40px;font-size:16px;color:#444;left:756.00px;width:100px;text-align:center;">F</div>
<div class="t" style="top:181.50px;height:40px;line-height:40px;font-size:16px;color:#444;left:867.50px;width:100px;text-align:center;">G</div>
<div class="t" style="top:181.50px;height:40px;line-height:40px;font-size:16px;color:#444;left:976.00px;width:100px;text-align:center;">H</div>
<div class="t" style="top:181.50px;height:40px;line-height:40px;font-size:16px;color:#444;left:1094.50px;width:100px;text-align:center;">I</div>
<div class="t" style="top:181.50px;height:40px;line-height:40px;font-size:16px;color:#444;left:1210.50px;width:100px;text-align:center;">J</div>
<div class="t" style="top:181.50px;height:40px;line-height:40px;font-size:16px;color:#444;left:1332.00px;width:100px;text-align:center;">K</div>
<div class="t" style="top:181.50px;height:40px;line-height:40px;font-size:16px;color:#444;left:1483.00px;width:40px;text-align:right;">L</div>
<div class="a" style="left:1px;top:239px;width:38px;height:1px;background:#dadada;"></div>
<div class="t" style="top:207.00px;height:40px;line-height:40px;font-size:17.5px;color:#4a4a4a;left:0.60px;width:40px;text-align:center;">2</div>
<div class="a" style="left:1px;top:266px;width:38px;height:1px;background:#dadada;"></div>
<div class="a" style="left:1px;top:240px;width:38px;height:27px;background:#e1e1e1;"></div>
<div class="a" style="left:38px;top:240px;width:2px;height:27px;background:#217346;"></div>
<div class="t" style="top:233.50px;height:40px;line-height:40px;font-size:17.5px;color:#217346;font-weight:bold;left:0.60px;width:40px;text-align:center;">3</div>
<div class="a" style="left:1px;top:292px;width:38px;height:1px;background:#dadada;"></div>
<div class="t" style="top:260.00px;height:40px;line-height:40px;font-size:17.5px;color:#4a4a4a;left:0.60px;width:40px;text-align:center;">4</div>
<div class="a" style="left:1px;top:314px;width:38px;height:1px;background:#dadada;"></div>
<div class="t" style="top:284.00px;height:40px;line-height:40px;font-size:17.5px;color:#4a4a4a;left:0.60px;width:40px;text-align:center;">5</div>
<div class="a" style="left:1px;top:337px;width:38px;height:1px;background:#dadada;"></div>
<div class="t" style="top:306.50px;height:40px;line-height:40px;font-size:17.5px;color:#4a4a4a;left:0.60px;width:40px;text-align:center;">6</div>
<div class="a" style="left:1px;top:360px;width:38px;height:1px;background:#dadada;"></div>
<div class="t" style="top:329.50px;height:40px;line-height:40px;font-size:17.5px;color:#4a4a4a;left:0.60px;width:40px;text-align:center;">7</div>
<div class="a" style="left:1px;top:381px;width:38px;height:1px;background:#dadada;"></div>
<div class="t" style="top:351.50px;height:40px;line-height:40px;font-size:17.5px;color:#4a4a4a;left:0.60px;width:40px;text-align:center;">8</div>
<div class="a" style="left:1px;top:401px;width:38px;height:1px;background:#dadada;"></div>
<div class="t" style="top:372.00px;height:40px;line-height:40px;font-size:17.5px;color:#4a4a4a;left:0.60px;width:40px;text-align:center;">9</div>
<div class="a" style="left:1px;top:422px;width:38px;height:1px;background:#dadada;"></div>
<div class="t" style="top:392.50px;height:40px;line-height:40px;font-size:17.5px;color:#4a4a4a;left:0.60px;width:40px;text-align:center;">10</div>
<div class="a" style="left:1px;top:444px;width:38px;height:1px;background:#dadada;"></div>
<div class="t" style="top:414.00px;height:40px;line-height:40px;font-size:17.5px;color:#4a4a4a;left:0.60px;width:40px;text-align:center;">11</div>
<div class="a" style="left:1px;top:467px;width:38px;height:1px;background:#dadada;"></div>
<div class="t" style="top:436.50px;height:40px;line-height:40px;font-size:17.5px;color:#4a4a4a;left:0.60px;width:40px;text-align:center;">12</div>
<div class="a" style="left:1px;top:489px;width:38px;height:1px;background:#dadada;"></div>
<div class="t" style="top:459.00px;height:40px;line-height:40px;font-size:17.5px;color:#4a4a4a;left:0.60px;width:40px;text-align:center;">13</div>
<div class="a" style="left:1px;top:510px;width:38px;height:1px;background:#dadada;"></div>
<div class="t" style="top:480.50px;height:40px;line-height:40px;font-size:17.5px;color:#4a4a4a;left:0.60px;width:40px;text-align:center;">14</div>
<div class="a" style="left:1px;top:531px;width:38px;height:1px;background:#dadada;"></div>
<div class="t" style="top:501.50px;height:40px;line-height:40px;font-size:17.5px;color:#4a4a4a;left:0.60px;width:40px;text-align:center;">15</div>
<div class="a" style="left:1px;top:553px;width:38px;height:1px;background:#dadada;"></div>
<div class="t" style="top:523.00px;height:40px;line-height:40px;font-size:17.5px;color:#4a4a4a;left:0.60px;width:40px;text-align:center;">16</div>
<div class="a" style="left:1px;top:574px;width:38px;height:1px;background:#dadada;"></div>
<div class="t" style="top:544.50px;height:40px;line-height:40px;font-size:17.5px;color:#4a4a4a;left:0.60px;width:40px;text-align:center;">17</div>
<div class="a" style="left:1px;top:596px;width:38px;height:1px;background:#dadada;"></div>
<div class="t" style="top:566.00px;height:40px;line-height:40px;font-size:17.5px;color:#4a4a4a;left:0.60px;width:40px;text-align:center;">18</div>
<div class="a" style="left:1px;top:617px;width:38px;height:1px;background:#dadada;"></div>
<div class="t" style="top:587.50px;height:40px;line-height:40px;font-size:17.5px;color:#4a4a4a;left:0.60px;width:40px;text-align:center;">19</div>
<div class="a" style="left:1px;top:639px;width:38px;height:1px;background:#dadada;"></div>
<div class="t" style="top:609.00px;height:40px;line-height:40px;font-size:17.5px;color:#4a4a4a;left:0.60px;width:40px;text-align:center;">20</div>
<div class="a" style="left:1px;top:660px;width:38px;height:1px;background:#dadada;"></div>
<div class="t" style="top:630.50px;height:40px;line-height:40px;font-size:17.5px;color:#4a4a4a;left:0.60px;width:40px;text-align:center;">21</div>
<div class="a" style="left:1px;top:681px;width:38px;height:1px;background:#dadada;"></div>
<div class="t" style="top:651.50px;height:40px;line-height:40px;font-size:17.5px;color:#4a4a4a;left:0.60px;width:40px;text-align:center;">22</div>
<div class="a" style="left:1px;top:703px;width:38px;height:1px;background:#dadada;"></div>
<div class="t" style="top:673.00px;height:40px;line-height:40px;font-size:17.5px;color:#4a4a4a;left:0.60px;width:40px;text-align:center;">23</div>
<div class="a" style="left:1px;top:724px;width:38px;height:1px;background:#dadada;"></div>
<div class="t" style="top:694.50px;height:40px;line-height:40px;font-size:17.5px;color:#4a4a4a;left:0.60px;width:40px;text-align:center;">24</div>
<div class="a" style="left:1px;top:745px;width:38px;height:1px;background:#dadada;"></div>
<div class="t" style="top:715.50px;height:40px;line-height:40px;font-size:17.5px;color:#4a4a4a;left:0.60px;width:40px;text-align:center;">25</div>
<div class="a" style="left:1px;top:767px;width:38px;height:1px;background:#dadada;"></div>
<div class="t" style="top:737.00px;height:40px;line-height:40px;font-size:17.5px;color:#4a4a4a;left:0.60px;width:40px;text-align:center;">26</div>
<div class="a" style="left:1px;top:788px;width:38px;height:1px;background:#dadada;"></div>
<div class="t" style="top:758.50px;height:40px;line-height:40px;font-size:17.5px;color:#4a4a4a;left:0.60px;width:40px;text-align:center;">27</div>
<div class="a" style="left:1px;top:810px;width:38px;height:1px;background:#dadada;"></div>
<div class="t" style="top:780.00px;height:40px;line-height:40px;font-size:17.5px;color:#4a4a4a;left:0.60px;width:40px;text-align:center;">28</div>
<div class="a" style="left:1px;top:831px;width:38px;height:1px;background:#dadada;"></div>
<div class="t" style="top:801.50px;height:40px;line-height:40px;font-size:17.5px;color:#4a4a4a;left:0.60px;width:40px;text-align:center;">29</div>
<div class="a" style="left:1px;top:852px;width:38px;height:1px;background:#dadada;"></div>
<div class="t" style="top:822.50px;height:40px;line-height:40px;font-size:17.5px;color:#4a4a4a;left:0.60px;width:40px;text-align:center;">30</div>
<div class="a" style="left:1px;top:874px;width:38px;height:1px;background:#dadada;"></div>
<div class="t" style="top:844.00px;height:40px;line-height:40px;font-size:17.5px;color:#4a4a4a;left:0.60px;width:40px;text-align:center;">31</div>
<div class="a" style="left:1px;top:896px;width:38px;height:1px;background:#dadada;"></div>
<div class="t" style="top:866.00px;height:40px;line-height:40px;font-size:17.5px;color:#4a4a4a;left:0.60px;width:40px;text-align:center;">32</div>
<div class="t" style="top:888.00px;height:40px;line-height:40px;font-size:17.5px;color:#4a4a4a;left:0.60px;width:40px;text-align:center;">33</div>
<div class="a" style="left:57px;top:214px;width:1028px;height:26px;background:#2f75b5;"></div>
<div class="a" style="left:451px;top:214px;width:1px;height:26px;background:#213f63;"></div>
<div class="a" style="left:601px;top:214px;width:1px;height:26px;background:#213f63;"></div>
<div class="a" style="left:744px;top:214px;width:1px;height:26px;background:#213f63;"></div>
<div class="a" style="left:868px;top:214px;width:1px;height:26px;background:#213f63;"></div>
<div class="a" style="left:967px;top:214px;width:1px;height:26px;background:#213f63;"></div>
<div class="a" style="left:57px;top:240px;width:1028px;height:1px;background:#1b2b40;"></div>
<div class="t" style="top:208.50px;height:40px;line-height:40px;font-size:14.2px;color:#fff;font-weight:bold;left:104.00px;width:300px;text-align:center;">Current Task Status / Priority</div>
<div class="t" style="top:208.50px;height:40px;line-height:40px;font-size:14.2px;color:#fff;font-weight:bold;left:376.00px;width:300px;text-align:center;">High</div>
<div class="t" style="top:208.50px;height:40px;line-height:40px;font-size:14.2px;color:#fff;font-weight:bold;left:522.50px;width:300px;text-align:center;">Medium</div>
<div class="t" style="top:208.50px;height:40px;line-height:40px;font-size:14.2px;color:#fff;font-weight:bold;left:655.50px;width:300px;text-align:center;">Low</div>
<div class="t" style="top:208.50px;height:40px;line-height:40px;font-size:14.2px;color:#fff;font-weight:bold;left:767.00px;width:300px;text-align:center;">Total</div>
<div class="t" style="top:208.50px;height:40px;line-height:40px;font-size:14.2px;color:#fff;font-weight:bold;left:875.50px;width:300px;text-align:center;">% Of Total</div>
<div class="a" style="left:868px;top:241px;width:217px;height:98px;background:#f2f2f2;"></div>
<div class="a" style="left:451px;top:339px;width:634px;height:22px;background:#f2f2f2;"></div>
<div class="a" style="left:451px;top:361px;width:516px;height:21px;background:#f2f2f2;"></div>
<div class="t" style="top:235.00px;height:40px;line-height:40px;font-size:14.2px;color:#000;font-weight:bold;left:60.50px;">Closed</div>
<div class="t" style="top:235.00px;height:40px;line-height:40px;font-size:14.2px;color:#000;font-weight:bold;left:456.00px;width:140px;text-align:center;">1</div>
<div class="t" style="top:235.00px;height:40px;line-height:40px;font-size:14.2px;color:#000;font-weight:bold;left:602.50px;width:140px;text-align:center;">0</div>
<div class="t" style="top:235.00px;height:40px;line-height:40px;font-size:14.2px;color:#000;font-weight:bold;left:735.50px;width:140px;text-align:center;">2</div>
<div class="t" style="top:235.00px;height:40px;line-height:40px;font-size:14.2px;color:#000;font-weight:bold;left:847.00px;width:140px;text-align:center;">3</div>
<div class="t" style="top:235.00px;height:40px;line-height:40px;font-size:14.2px;color:#000;font-weight:bold;left:955.50px;width:140px;text-align:center;">13%</div>
<div class="t" style="top:261.40px;height:40px;line-height:40px;font-size:14.2px;color:#000;font-weight:bold;left:60.50px;">Work In Progress</div>
<div class="t" style="top:261.40px;height:40px;line-height:40px;font-size:14.2px;color:#000;font-weight:bold;left:456.00px;width:140px;text-align:center;">2</div>
<div class="t" style="top:261.40px;height:40px;line-height:40px;font-size:14.2px;color:#000;font-weight:bold;left:602.50px;width:140px;text-align:center;">4</div>
<div class="t" style="top:261.40px;height:40px;line-height:40px;font-size:14.2px;color:#000;font-weight:bold;left:735.50px;width:140px;text-align:center;">1</div>
<div class="t" style="top:261.40px;height:40px;line-height:40px;font-size:14.2px;color:#000;font-weight:bold;left:847.00px;width:140px;text-align:center;">7</div>
<div class="t" style="top:261.40px;height:40px;line-height:40px;font-size:14.2px;color:#000;font-weight:bold;left:955.50px;width:140px;text-align:center;">30%</div>
<div class="t" style="top:284.00px;height:40px;line-height:40px;font-size:14.2px;color:#000;font-weight:bold;left:60.50px;">Behind</div>
<div class="t" style="top:284.00px;height:40px;line-height:40px;font-size:14.2px;color:#000;font-weight:bold;left:456.00px;width:140px;text-align:center;">4</div>
<div class="t" style="top:284.00px;height:40px;line-height:40px;font-size:14.2px;color:#000;font-weight:bold;left:602.50px;width:140px;text-align:center;">1</div>
<div class="t" style="top:284.00px;height:40px;line-height:40px;font-size:14.2px;color:#000;font-weight:bold;left:735.50px;width:140px;text-align:center;">0</div>
<div class="t" style="top:284.00px;height:40px;line-height:40px;font-size:14.2px;color:#000;font-weight:bold;left:847.00px;width:140px;text-align:center;">5</div>
<div class="t" style="top:284.00px;height:40px;line-height:40px;font-size:14.2px;color:#000;font-weight:bold;left:955.50px;width:140px;text-align:center;">22%</div>
<div class="t" style="top:306.30px;height:40px;line-height:40px;font-size:14.2px;color:#000;font-weight:bold;left:60.50px;">Not Started</div>
<div class="t" style="top:306.30px;height:40px;line-height:40px;font-size:14.2px;color:#000;font-weight:bold;left:456.00px;width:140px;text-align:center;">4</div>
<div class="t" style="top:306.30px;height:40px;line-height:40px;font-size:14.2px;color:#000;font-weight:bold;left:602.50px;width:140px;text-align:center;">1</div>
<div class="t" style="top:306.30px;height:40px;line-height:40px;font-size:14.2px;color:#000;font-weight:bold;left:735.50px;width:140px;text-align:center;">3</div>
<div class="t" style="top:306.30px;height:40px;line-height:40px;font-size:14.2px;color:#000;font-weight:bold;left:847.00px;width:140px;text-align:center;">8</div>
<div class="t" style="top:306.30px;height:40px;line-height:40px;font-size:14.2px;color:#000;font-weight:bold;left:955.50px;width:140px;text-align:center;">35%</div>
<div class="t" style="top:330.00px;height:40px;line-height:40px;font-size:14.2px;color:#000;font-weight:bold;left:60.50px;">Total</div>
<div class="t" style="top:330.00px;height:40px;line-height:40px;font-size:14.2px;color:#000;font-weight:bold;left:456.00px;width:140px;text-align:center;">11</div>
<div class="t" style="top:330.00px;height:40px;line-height:40px;font-size:14.2px;color:#000;font-weight:bold;left:602.50px;width:140px;text-align:center;">6</div>
<div class="t" style="top:330.00px;height:40px;line-height:40px;font-size:14.2px;color:#000;font-weight:bold;left:735.50px;width:140px;text-align:center;">6</div>
<div class="t" style="top:330.00px;height:40px;line-height:40px;font-size:14.2px;color:#000;font-weight:bold;left:847.00px;width:140px;text-align:center;">23</div>
<div class="t" style="top:330.00px;height:40px;line-height:40px;font-size:14.2px;color:#000;font-weight:bold;left:955.50px;width:140px;text-align:center;">100%</div>
<div class="t" style="top:351.50px;height:40px;line-height:40px;font-size:14.2px;color:#000;font-weight:bold;left:60.50px;">% of Total</div>
<div class="t" style="top:351.50px;height:40px;line-height:40px;font-size:14.2px;color:#000;font-weight:bold;left:456.00px;width:140px;text-align:center;">48%</div>
<div class="t" style="top:351.50px;height:40px;line-height:40px;font-size:14.2px;color:#000;font-weight:bold;left:602.50px;width:140px;text-align:center;">26%</div>
<div class="t" style="top:351.50px;height:40px;line-height:40px;font-size:14.2px;color:#000;font-weight:bold;left:735.50px;width:140px;text-align:center;">26%</div>
<div class="t" style="top:351.50px;height:40px;line-height:40px;font-size:14.2px;color:#000;font-weight:bold;left:847.00px;width:140px;text-align:center;">100%</div>
<div class="a" style="left:57px;top:266px;width:1028px;height:1px;background:#5a5a5a;"></div>
<div class="a" style="left:57px;top:292px;width:1028px;height:1px;background:#5a5a5a;"></div>
<div class="a" style="left:57px;top:314px;width:1028px;height:1px;background:#222;"></div>
<div class="a" style="left:57px;top:336px;width:1028px;height:1px;background:#444;"></div>
<div class="a" style="left:57px;top:338px;width:1028px;height:1px;background:#444;"></div>
<div class="a" style="left:57px;top:360px;width:1028px;height:1px;background:#555;"></div>
<div class="a" style="left:57px;top:381px;width:1028px;height:1px;background:#222;"></div>
<div class="a" style="left:56px;top:241px;width:1px;height:141px;background:#444;"></div>
<div class="a" style="left:451px;top:241px;width:1px;height:141px;background:#444;"></div>
<div class="a" style="left:601px;top:241px;width:1px;height:141px;background:#444;"></div>
<div class="a" style="left:744px;top:241px;width:1px;height:141px;background:#444;"></div>
<div class="a" style="left:868px;top:241px;width:1px;height:141px;background:#444;"></div>
<div class="a" style="left:967px;top:241px;width:1px;height:141px;background:#444;"></div>
<div class="a" style="left:1084px;top:241px;width:1px;height:120px;background:#444;"></div>
<div class="a" style="left:967px;top:381px;width:118px;height:1px;background:#fff;"></div>
<div class="a" style="left:55px;top:239px;width:397px;height:29px;border:2px solid #217346;box-sizing:border-box;"></div>
<div class="a" style="left:449px;top:264px;width:5px;height:5px;background:#217346;outline:1px solid #fff;"></div>
<div class="a" style="left:868px;top:402px;width:99px;height:518px;background:#f0f0f0;"></div>
<div class="a" style="left:57px;top:402px;width:811px;height:21px;background:#2f75b5;"></div>
<div class="t" style="top:392.80px;height:40px;line-height:40px;font-size:14.2px;color:#fff;font-weight:bold;left:107.00px;">Issue Description</div>
<div class="t" style="top:392.80px;height:40px;line-height:40px;font-size:14.2px;color:#fff;font-weight:bold;letter-spacing:0.344px;left:455.00px;">Department</div>
<div class="t" style="top:392.80px;height:40px;line-height:40px;font-size:14.2px;color:#fff;font-weight:bold;left:604.50px;">Actual Status</div>
<div class="t" style="top:392.80px;height:40px;line-height:40px;font-size:14.2px;color:#fff;font-weight:bold;left:747.00px;">Priority</div>
<div class="t" style="top:392.80px;height:40px;line-height:40px;font-size:15.2px;color:#fff;font-weight:bold;letter-spacing:0.800px;left:59.50px;">ID</div>
<div class="a" style="left:87px;top:405px;width:16px;height:17px;background:#f3f3f3;border-right:1px solid #888;border-bottom:1px solid #888;box-sizing:border-box;"></div>
<svg class="a" style="left:91px;top:411px;" width="8" height="5" viewBox="0 0 8 5"><path d="M0 0h8l-4 4.5z" fill="#555"/></svg>
<div class="a" style="left:435px;top:405px;width:16px;height:17px;background:#f3f3f3;border-right:1px solid #888;border-bottom:1px solid #888;box-sizing:border-box;"></div>
<svg class="a" style="left:439px;top:411px;" width="8" height="5" viewBox="0 0 8 5"><path d="M0 0h8l-4 4.5z" fill="#555"/></svg>
<div class="a" style="left:584px;top:405px;width:16px;height:17px;background:#f3f3f3;border-right:1px solid #888;border-bottom:1px solid #888;box-sizing:border-box;"></div>
<svg class="a" style="left:588px;top:411px;" width="8" height="5" viewBox="0 0 8 5"><path d="M0 0h8l-4 4.5z" fill="#555"/></svg>
<div class="a" style="left:727px;top:405px;width:16px;height:17px;background:#f3f3f3;border-right:1px solid #888;border-bottom:1px solid #888;box-sizing:border-box;"></div>
<svg class="a" style="left:731px;top:411px;" width="8" height="5" viewBox="0 0 8 5"><path d="M0 0h8l-4 4.5z" fill="#555"/></svg>
<div class="a" style="left:851px;top:405px;width:16px;height:17px;background:#f3f3f3;border-right:1px solid #888;border-bottom:1px solid #888;box-sizing:border-box;"></div>
<svg class="a" style="left:855px;top:411px;" width="8" height="5" viewBox="0 0 8 5"><path d="M0 0h8l-4 4.5z" fill="#555"/></svg>
<div class="a" style="left:57px;top:423px;width:687px;height:22px;background:#dde7f2;"></div>
<div class="a" style="left:744px;top:423px;width:124px;height:22px;background:#c6efce;"></div>
<div class="a" style="left:57px;top:444px;width:811px;height:1px;background:#b3bfcc;"></div>
<div class="t" style="top:413.80px;height:40px;line-height:40px;font-size:15.2px;color:#222;left:39.50px;width:60px;text-align:right;">1</div>
<div class="t" style="top:413.80px;height:40px;line-height:40px;font-size:15.2px;color:#222;left:107.60px;">Application Design</div>
<div class="t" style="top:413.80px;height:40px;line-height:40px;font-size:15.2px;color:#222;left:455.00px;">IT</div>
<div class="t" style="top:413.80px;height:40px;line-height:40px;font-size:15.2px;color:#222;left:604.50px;">Not Started</div>
<div class="t" style="top:413.80px;height:40px;line-height:40px;font-size:14.2px;color:#006100;font-weight:bold;left:746.80px;">Low</div>
<div class="a" style="left:57px;top:445px;width:687px;height:23px;background:#fff;"></div>
<div class="a" style="left:744px;top:445px;width:124px;height:23px;background:#ffc7ce;"></div>
<div class="a" style="left:57px;top:467px;width:811px;height:1px;background:#b3bfcc;"></div>
<div class="t" style="top:436.30px;height:40px;line-height:40px;font-size:15.2px;color:#222;left:39.50px;width:60px;text-align:right;">2</div>
<div class="t" style="top:436.30px;height:40px;line-height:40px;font-size:15.2px;color:#222;left:107.60px;">Application Development</div>
<div class="t" style="top:436.30px;height:40px;line-height:40px;font-size:15.2px;color:#222;left:455.00px;">IT</div>
<div class="t" style="top:436.30px;height:40px;line-height:40px;font-size:15.2px;color:#222;left:604.50px;">Work In Progress</div>
<div class="t" style="top:436.30px;height:40px;line-height:40px;font-size:14.2px;color:#9c0006;font-weight:bold;left:746.80px;">High</div>
<div class="a" style="left:57px;top:468px;width:687px;height:22px;background:#dde7f2;"></div>
<div class="a" style="left:744px;top:468px;width:124px;height:22px;background:#c6efce;"></div>
<div class="a" style="left:57px;top:489px;width:811px;height:1px;background:#b3bfcc;"></div>
<div class="t" style="top:458.80px;height:40px;line-height:40px;font-size:15.2px;color:#222;left:39.50px;width:60px;text-align:right;">3</div>
<div class="t" style="top:458.80px;height:40px;line-height:40px;font-size:15.2px;color:#222;left:107.60px;">Application Testing</div>
<div class="t" style="top:458.80px;height:40px;line-height:40px;font-size:15.2px;color:#222;left:455.00px;">IT</div>
<div class="t" style="top:458.80px;height:40px;line-height:40px;font-size:15.2px;color:#222;left:604.50px;">Closed</div>
<div class="t" style="top:458.80px;height:40px;line-height:40px;font-size:14.2px;color:#006100;font-weight:bold;left:746.80px;">Low</div>
<div class="a" style="left:57px;top:490px;width:687px;height:21px;background:#fff;"></div>
<div class="a" style="left:744px;top:490px;width:124px;height:21px;background:#ffc7ce;"></div>
<div class="a" style="left:57px;top:510px;width:811px;height:1px;background:#b3bfcc;"></div>
<div class="t" style="top:480.30px;height:40px;line-height:40px;font-size:15.2px;color:#222;left:39.50px;width:60px;text-align:right;">4</div>
<div class="t" style="top:480.30px;height:40px;line-height:40px;font-size:15.2px;color:#222;left:107.60px;">Deploy</div>
<div class="t" style="top:480.30px;height:40px;line-height:40px;font-size:15.2px;color:#222;left:455.00px;">IT</div>
<div class="t" style="top:480.30px;height:40px;line-height:40px;font-size:15.2px;color:#222;left:604.50px;">Not Started</div>
<div class="t" style="top:480.30px;height:40px;line-height:40px;font-size:14.2px;color:#9c0006;font-weight:bold;left:746.80px;">High</div>
<div class="a" style="left:57px;top:511px;width:687px;height:21px;background:#dde7f2;"></div>
<div class="a" style="left:744px;top:511px;width:124px;height:21px;background:#ffeb9c;"></div>
<div class="a" style="left:57px;top:531px;width:811px;height:1px;background:#b3bfcc;"></div>
<div class="t" style="top:501.30px;height:40px;line-height:40px;font-size:15.2px;color:#222;left:39.50px;width:60px;text-align:right;">5</div>
<div class="t" style="top:501.30px;height:40px;line-height:40px;font-size:15.2px;color:#222;left:107.60px;">Enviroment Design</div>
<div class="t" style="top:501.30px;height:40px;line-height:40px;font-size:15.2px;color:#222;left:455.00px;">Marketing</div>
<div class="t" style="top:501.30px;height:40px;line-height:40px;font-size:15.2px;color:#222;left:604.50px;">Work In Progress</div>
<div class="t" style="top:501.30px;height:40px;line-height:40px;font-size:14.2px;color:#9c6500;font-weight:bold;left:746.80px;">Medium</div>
<div class="a" style="left:57px;top:532px;width:687px;height:22px;background:#fff;"></div>
<div class="a" style="left:744px;top:532px;width:124px;height:22px;background:#c6efce;"></div>
<div class="a" style="left:57px;top:553px;width:811px;height:1px;background:#b3bfcc;"></div>
<div class="t" style="top:522.80px;height:40px;line-height:40px;font-size:15.2px;color:#222;left:39.50px;width:60px;text-align:right;">6</div>
<div class="t" style="top:522.80px;height:40px;line-height:40px;font-size:15.2px;color:#222;left:107.60px;">Enviroment Implementation</div>
<div class="t" style="top:522.80px;height:40px;line-height:40px;font-size:15.2px;color:#222;left:455.00px;">Marketing</div>
<div class="t" style="top:522.80px;height:40px;line-height:40px;font-size:15.2px;color:#222;left:604.50px;">Closed</div>
<div class="t" style="top:522.80px;height:40px;line-height:40px;font-size:14.2px;color:#006100;font-weight:bold;left:746.80px;">Low</div>
<div class="a" style="left:57px;top:554px;width:687px;height:21px;background:#dde7f2;"></div>
<div class="a" style="left:744px;top:554px;width:124px;height:21px;background:#ffc7ce;"></div>
<div class="a" style="left:57px;top:574px;width:811px;height:1px;background:#b3bfcc;"></div>
<div class="t" style="top:544.30px;height:40px;line-height:40px;font-size:15.2px;color:#222;left:39.50px;width:60px;text-align:right;">7</div>
<div class="t" style="top:544.30px;height:40px;line-height:40px;font-size:15.2px;color:#222;left:107.60px;">Enviroment Testing</div>
<div class="t" style="top:544.30px;height:40px;line-height:40px;font-size:15.2px;color:#222;left:455.00px;">Operations</div>
<div class="t" style="top:544.30px;height:40px;line-height:40px;font-size:15.2px;color:#222;left:604.50px;">Behind</div>
<div class="t" style="top:544.30px;height:40px;line-height:40px;font-size:14.2px;color:#9c0006;font-weight:bold;left:746.80px;">High</div>
<div class="a" style="left:57px;top:575px;width:687px;height:22px;background:#fff;"></div>
<div class="a" style="left:744px;top:575px;width:124px;height:22px;background:#ffeb9c;"></div>
<div class="a" style="left:57px;top:596px;width:811px;height:1px;background:#b3bfcc;"></div>
<div class="t" style="top:565.80px;height:40px;line-height:40px;font-size:15.2px;color:#222;left:39.50px;width:60px;text-align:right;">8</div>
<div class="t" style="top:565.80px;height:40px;line-height:40px;font-size:15.2px;color:#222;left:107.60px;">Process Design</div>
<div class="t" style="top:565.80px;height:40px;line-height:40px;font-size:15.2px;color:#222;left:455.00px;">Operations</div>
<div class="t" style="top:565.80px;height:40px;line-height:40px;font-size:15.2px;color:#222;left:604.50px;">Work In Progress</div>
<div class="t" style="top:565.80px;height:40px;line-height:40px;font-size:14.2px;color:#9c6500;font-weight:bold;left:746.80px;">Medium</div>
<div class="a" style="left:57px;top:597px;width:687px;height:21px;background:#dde7f2;"></div>
<div class="a" style="left:744px;top:597px;width:124px;height:21px;background:#ffc7ce;"></div>
<div class="a" style="left:57px;top:617px;width:811px;height:1px;background:#b3bfcc;"></div>
<div class="t" style="top:587.30px;height:40px;line-height:40px;font-size:15.2px;color:#222;left:39.50px;width:60px;text-align:right;">9</div>
<div class="t" style="top:587.30px;height:40px;line-height:40px;font-size:15.2px;color:#222;left:107.60px;">Operational Setup</div>
<div class="t" style="top:587.30px;height:40px;line-height:40px;font-size:15.2px;color:#222;left:455.00px;">Operations</div>
<div class="t" style="top:587.30px;height:40px;line-height:40px;font-size:15.2px;color:#222;left:604.50px;">Behind</div>
<div class="t" style="top:587.30px;height:40px;line-height:40px;font-size:14.2px;color:#9c0006;font-weight:bold;left:746.80px;">High</div>
<div class="a" style="left:57px;top:618px;width:687px;height:22px;background:#fff;"></div>
<div class="a" style="left:744px;top:618px;width:124px;height:22px;background:#ffeb9c;"></div>
<div class="a" style="left:57px;top:639px;width:811px;height:1px;background:#b3bfcc;"></div>
<div class="t" style="top:608.80px;height:40px;line-height:40px;font-size:15.2px;color:#222;left:39.50px;width:60px;text-align:right;">10</div>
<div class="t" style="top:608.80px;height:40px;line-height:40px;font-size:15.2px;color:#222;left:107.60px;">Implementation</div>
<div class="t" style="top:608.80px;height:40px;line-height:40px;font-size:15.2px;color:#222;left:455.00px;">Operations</div>
<div class="t" style="top:608.80px;height:40px;line-height:40px;font-size:15.2px;color:#222;left:604.50px;">Work In Progress</div>
<div class="t" style="top:608.80px;height:40px;line-height:40px;font-size:14.2px;color:#9c6500;font-weight:bold;left:746.80px;">Medium</div>
<div class="a" style="left:57px;top:640px;width:687px;height:21px;background:#dde7f2;"></div>
<div class="a" style="left:744px;top:640px;width:124px;height:21px;background:#ffeb9c;"></div>
<div class="a" style="left:57px;top:660px;width:811px;height:1px;background:#b3bfcc;"></div>
<div class="t" style="top:630.30px;height:40px;line-height:40px;font-size:15.2px;color:#222;left:39.50px;width:60px;text-align:right;">11</div>
<div class="t" style="top:630.30px;height:40px;line-height:40px;font-size:15.2px;color:#222;left:107.60px;">Product Launch</div>
<div class="t" style="top:630.30px;height:40px;line-height:40px;font-size:15.2px;color:#222;left:455.00px;">Marketing</div>
<div class="t" style="top:630.30px;height:40px;line-height:40px;font-size:15.2px;color:#222;left:604.50px;">Behind</div>
<div class="t" style="top:630.30px;height:40px;line-height:40px;font-size:14.2px;color:#9c6500;font-weight:bold;left:746.80px;">Medium</div>
<div class="a" style="left:57px;top:661px;width:687px;height:21px;background:#fff;"></div>
<div class="a" style="left:744px;top:661px;width:124px;height:21px;background:#ffc7ce;"></div>
<div class="a" style="left:57px;top:681px;width:811px;height:1px;background:#b3bfcc;"></div>
<div class="t" style="top:651.30px;height:40px;line-height:40px;font-size:15.2px;color:#222;left:39.50px;width:60px;text-align:right;">12</div>
<div class="t" style="top:651.30px;height:40px;line-height:40px;font-size:15.2px;color:#222;left:107.60px;">R&amp;D</div>
<div class="t" style="top:651.30px;height:40px;line-height:40px;font-size:15.2px;color:#222;left:455.00px;">Marketing</div>
<div class="t" style="top:651.30px;height:40px;line-height:40px;font-size:15.2px;color:#222;left:604.50px;">Work In Progress</div>
<div class="t" style="top:651.30px;height:40px;line-height:40px;font-size:14.2px;color:#9c0006;font-weight:bold;left:746.80px;">High</div>
<div class="a" style="left:57px;top:682px;width:687px;height:22px;background:#dde7f2;"></div>
<div class="a" style="left:744px;top:682px;width:124px;height:22px;background:#ffc7ce;"></div>
<div class="a" style="left:57px;top:703px;width:811px;height:1px;background:#b3bfcc;"></div>
<div class="t" style="top:672.80px;height:40px;line-height:40px;font-size:15.2px;color:#222;left:39.50px;width:60px;text-align:right;">13</div>
<div class="t" style="top:672.80px;height:40px;line-height:40px;font-size:15.2px;color:#222;left:107.60px;">Product Design</div>
<div class="t" style="top:672.80px;height:40px;line-height:40px;font-size:15.2px;color:#222;left:455.00px;">Marketing</div>
<div class="t" style="top:672.80px;height:40px;line-height:40px;font-size:15.2px;color:#222;left:604.50px;">Behind</div>
<div class="t" style="top:672.80px;height:40px;line-height:40px;font-size:14.2px;color:#9c0006;font-weight:bold;left:746.80px;">High</div>
<div class="a" style="left:57px;top:704px;width:687px;height:21px;background:#fff;"></div>
<div class="a" style="left:744px;top:704px;width:124px;height:21px;background:#ffc7ce;"></div>
<div class="a" style="left:57px;top:724px;width:811px;height:1px;background:#b3bfcc;"></div>
<div class="t" style="top:694.30px;height:40px;line-height:40px;font-size:15.2px;color:#222;left:39.50px;width:60px;text-align:right;">14</div>
<div class="t" style="top:694.30px;height:40px;line-height:40px;font-size:15.2px;color:#222;left:107.60px;">Marketing Collateral</div>
<div class="t" style="top:694.30px;height:40px;line-height:40px;font-size:15.2px;color:#222;left:455.00px;">Marketing</div>
<div class="t" style="top:694.30px;height:40px;line-height:40px;font-size:15.2px;color:#222;left:604.50px;">Closed</div>
<div class="t" style="top:694.30px;height:40px;line-height:40px;font-size:14.2px;color:#9c0006;font-weight:bold;left:746.80px;">High</div>
<div class="a" style="left:57px;top:725px;width:687px;height:21px;background:#dde7f2;"></div>
<div class="a" style="left:744px;top:725px;width:124px;height:21px;background:#ffc7ce;"></div>
<div class="a" style="left:57px;top:745px;width:811px;height:1px;background:#b3bfcc;"></div>
<div class="t" style="top:715.30px;height:40px;line-height:40px;font-size:15.2px;color:#222;left:39.50px;width:60px;text-align:right;">15</div>
<div class="t" style="top:715.30px;height:40px;line-height:40px;font-size:15.2px;color:#222;left:107.60px;">Press Release</div>
<div class="t" style="top:715.30px;height:40px;line-height:40px;font-size:15.2px;color:#222;left:455.00px;">Marketing</div>
<div class="t" style="top:715.30px;height:40px;line-height:40px;font-size:15.2px;color:#222;left:604.50px;">Behind</div>
<div class="t" style="top:715.30px;height:40px;line-height:40px;font-size:14.2px;color:#9c0006;font-weight:bold;left:746.80px;">High</div>
<div class="a" style="left:57px;top:746px;width:687px;height:22px;background:#fff;"></div>
<div class="a" style="left:744px;top:746px;width:124px;height:22px;background:#ffc7ce;"></div>
<div class="a" style="left:57px;top:767px;width:811px;height:1px;background:#b3bfcc;"></div>
<div class="t" style="top:736.80px;height:40px;line-height:40px;font-size:15.2px;color:#222;left:39.50px;width:60px;text-align:right;">16</div>
<div class="t" style="top:736.80px;height:40px;line-height:40px;font-size:15.2px;color:#222;left:107.60px;">Operation Issue 1</div>
<div class="t" style="top:736.80px;height:40px;line-height:40px;font-size:15.2px;color:#222;left:455.00px;">Operations</div>
<div class="t" style="top:736.80px;height:40px;line-height:40px;font-size:15.2px;color:#222;left:604.50px;">Not Started</div>
<div class="t" style="top:736.80px;height:40px;line-height:40px;font-size:14.2px;color:#9c0006;font-weight:bold;left:746.80px;">High</div>
<div class="a" style="left:57px;top:768px;width:687px;height:21px;background:#dde7f2;"></div>
<div class="a" style="left:744px;top:768px;width:124px;height:21px;background:#c6efce;"></div>
<div class="a" style="left:57px;top:788px;width:811px;height:1px;background:#b3bfcc;"></div>
<div class="t" style="top:758.30px;height:40px;line-height:40px;font-size:15.2px;color:#222;left:39.50px;width:60px;text-align:right;">17</div>
<div class="t" style="top:758.30px;height:40px;line-height:40px;font-size:15.2px;color:#222;left:107.60px;">Operation Issue 2</div>
<div class="t" style="top:758.30px;height:40px;line-height:40px;font-size:15.2px;color:#222;left:455.00px;">Operations</div>
<div class="t" style="top:758.30px;height:40px;line-height:40px;font-size:15.2px;color:#222;left:604.50px;">Not Started</div>
<div class="t" style="top:758.30px;height:40px;line-height:40px;font-size:14.2px;color:#006100;font-weight:bold;left:746.80px;">Low</div>
<div class="a" style="left:57px;top:789px;width:687px;height:22px;background:#fff;"></div>
<div class="a" style="left:744px;top:789px;width:124px;height:22px;background:#ffeb9c;"></div>
<div class="a" style="left:57px;top:810px;width:811px;height:1px;background:#b3bfcc;"></div>
<div class="t" style="top:779.80px;height:40px;line-height:40px;font-size:15.2px;color:#222;left:39.50px;width:60px;text-align:right;">18</div>
<div class="t" style="top:779.80px;height:40px;line-height:40px;font-size:15.2px;color:#222;left:107.60px;">IT Issue 1</div>
<div class="t" style="top:779.80px;height:40px;line-height:40px;font-size:15.2px;color:#222;left:455.00px;">IT</div>
<div class="t" style="top:779.80px;height:40px;line-height:40px;font-size:15.2px;color:#222;left:604.50px;">Work In Progress</div>
<div class="t" style="top:779.80px;height:40px;line-height:40px;font-size:14.2px;color:#9c6500;font-weight:bold;left:746.80px;">Medium</div>
<div class="a" style="left:57px;top:811px;width:687px;height:21px;background:#dde7f2;"></div>
<div class="a" style="left:744px;top:811px;width:124px;height:21px;background:#ffc7ce;"></div>
<div class="a" style="left:57px;top:831px;width:811px;height:1px;background:#b3bfcc;"></div>
<div class="t" style="top:801.30px;height:40px;line-height:40px;font-size:15.2px;color:#222;left:39.50px;width:60px;text-align:right;">19</div>
<div class="t" style="top:801.30px;height:40px;line-height:40px;font-size:15.2px;color:#222;left:107.60px;">IT Issue 2</div>
<div class="t" style="top:801.30px;height:40px;line-height:40px;font-size:15.2px;color:#222;left:455.00px;">IT</div>
<div class="t" style="top:801.30px;height:40px;line-height:40px;font-size:15.2px;color:#222;left:604.50px;">Not Started</div>
<div class="t" style="top:801.30px;height:40px;line-height:40px;font-size:14.2px;color:#9c0006;font-weight:bold;left:746.80px;">High</div>
<div class="a" style="left:57px;top:832px;width:687px;height:21px;background:#fff;"></div>
<div class="a" style="left:744px;top:832px;width:124px;height:21px;background:#ffeb9c;"></div>
<div class="a" style="left:57px;top:852px;width:811px;height:1px;background:#b3bfcc;"></div>
<div class="t" style="top:822.30px;height:40px;line-height:40px;font-size:15.2px;color:#222;left:39.50px;width:60px;text-align:right;">20</div>
<div class="t" style="top:822.30px;height:40px;line-height:40px;font-size:15.2px;color:#222;left:107.60px;">IT Issue 3</div>
<div class="t" style="top:822.30px;height:40px;line-height:40px;font-size:15.2px;color:#222;left:455.00px;">IT</div>
<div class="t" style="top:822.30px;height:40px;line-height:40px;font-size:15.2px;color:#222;left:604.50px;">Not Started</div>
<div class="t" style="top:822.30px;height:40px;line-height:40px;font-size:14.2px;color:#9c6500;font-weight:bold;left:746.80px;">Medium</div>
<div class="a" style="left:57px;top:853px;width:687px;height:22px;background:#dde7f2;"></div>
<div class="a" style="left:744px;top:853px;width:124px;height:22px;background:#c6efce;"></div>
<div class="a" style="left:57px;top:874px;width:811px;height:1px;background:#b3bfcc;"></div>
<div class="t" style="top:843.80px;height:40px;line-height:40px;font-size:15.2px;color:#222;left:39.50px;width:60px;text-align:right;">21</div>
<div class="t" style="top:843.80px;height:40px;line-height:40px;font-size:15.2px;color:#222;left:107.60px;">Marketing Issue 1</div>
<div class="t" style="top:843.80px;height:40px;line-height:40px;font-size:15.2px;color:#222;left:455.00px;">Marketing</div>
<div class="t" style="top:843.80px;height:40px;line-height:40px;font-size:15.2px;color:#222;left:604.50px;">Work In Progress</div>
<div class="t" style="top:843.80px;height:40px;line-height:40px;font-size:14.2px;color:#006100;font-weight:bold;left:746.80px;">Low</div>
<div class="a" style="left:57px;top:875px;width:687px;height:22px;background:#fff;"></div>
<div class="a" style="left:744px;top:875px;width:124px;height:22px;background:#ffc7ce;"></div>
<div class="a" style="left:57px;top:896px;width:811px;height:1px;background:#b3bfcc;"></div>
<div class="t" style="top:865.80px;height:40px;line-height:40px;font-size:15.2px;color:#222;left:39.50px;width:60px;text-align:right;">22</div>
<div class="t" style="top:865.80px;height:40px;line-height:40px;font-size:15.2px;color:#222;left:107.60px;">Marketing Issue 2</div>
<div class="t" style="top:865.80px;height:40px;line-height:40px;font-size:15.2px;color:#222;left:455.00px;">Marketing</div>
<div class="t" style="top:865.80px;height:40px;line-height:40px;font-size:15.2px;color:#222;left:604.50px;">Not Started</div>
<div class="t" style="top:865.80px;height:40px;line-height:40px;font-size:14.2px;color:#9c0006;font-weight:bold;left:746.80px;">High</div>
<div class="a" style="left:57px;top:897px;width:687px;height:22px;background:#dde7f2;"></div>
<div class="a" style="left:744px;top:897px;width:124px;height:22px;background:#c6efce;"></div>
<div class="a" style="left:57px;top:918px;width:811px;height:1px;background:#b3bfcc;"></div>
<div class="t" style="top:887.80px;height:40px;line-height:40px;font-size:15.2px;color:#222;left:39.50px;width:60px;text-align:right;">23</div>
<div class="t" style="top:887.80px;height:40px;line-height:40px;font-size:15.2px;color:#222;left:107.60px;">Marketing Issue 3</div>
<div class="t" style="top:887.80px;height:40px;line-height:40px;font-size:15.2px;color:#222;left:455.00px;">Marketing</div>
<div class="t" style="top:887.80px;height:40px;line-height:40px;font-size:15.2px;color:#222;left:604.50px;">Not Started</div>
<div class="t" style="top:887.80px;height:40px;line-height:40px;font-size:14.2px;color:#006100;font-weight:bold;left:746.80px;">Low</div>
<div class="a" style="left:103px;top:423px;width:1px;height:496px;background:#b0b8c4;"></div>
<div class="a" style="left:451px;top:423px;width:1px;height:496px;background:#b0b8c4;"></div>
<div class="a" style="left:601px;top:423px;width:1px;height:496px;background:#b0b8c4;"></div>
<div class="a" style="left:744px;top:423px;width:1px;height:496px;background:#b0b8c4;"></div>
<svg class="a" style="left:861px;top:912px;" width="6" height="6" viewBox="0 0 6 6"><path d="M6 0V6H0Z" fill="#3e62a8"/></svg>
<div class="t" style="top:392.80px;height:40px;line-height:40px;font-size:16.65px;color:#444;font-weight:bold;left:1085.00px;width:120px;text-align:center;">0,1</div>
<div class="t" style="top:392.80px;height:40px;line-height:40px;font-size:16.65px;color:#444;font-weight:bold;left:1200.50px;width:120px;text-align:center;">0,3</div>
<div class="t" style="top:392.80px;height:40px;line-height:40px;font-size:16.65px;color:#444;font-weight:bold;left:1322.00px;width:120px;text-align:center;">0,6</div>
<div class="t" style="top:413.50px;height:40px;line-height:40px;font-size:16.65px;color:#444;font-weight:bold;left:1085.00px;width:120px;text-align:center;">Low</div>
<div class="t" style="top:413.50px;height:40px;line-height:40px;font-size:16.65px;color:#444;font-weight:bold;left:1200.50px;width:120px;text-align:center;">Medium</div>
<div class="t" style="top:413.50px;height:40px;line-height:40px;font-size:16.65px;color:#444;font-weight:bold;left:1322.00px;width:120px;text-align:center;">High</div>
<div class="a" style="left:1084px;top:467px;width:119px;height:107px;background:#63be7b;"></div>
<div class="t" style="top:501.50px;height:40px;line-height:40px;font-size:16.9px;color:#111;font-weight:bold;font-style:italic;left:1089.00px;width:110px;text-align:center;">0,00%</div>
<div class="a" style="left:1203px;top:467px;width:112px;height:107px;background:#ffeb84;"></div>
<div class="t" style="top:501.50px;height:40px;line-height:40px;font-size:16.9px;color:#111;font-weight:bold;font-style:italic;left:1204.50px;width:110px;text-align:center;">5,00%</div>
<div class="a" style="left:1315px;top:467px;width:130px;height:107px;background:#f8696b;"></div>
<div class="t" style="top:501.50px;height:40px;line-height:40px;font-size:16.9px;color:#111;font-weight:bold;font-style:italic;left:1325.50px;width:110px;text-align:center;">21,82%</div>
<div class="a" style="left:1084px;top:574px;width:119px;height:107px;background:#97cd7e;"></div>
<div class="t" style="top:608.50px;height:40px;line-height:40px;font-size:16.9px;color:#111;font-weight:bold;font-style:italic;left:1089.00px;width:110px;text-align:center;">1,67%</div>
<div class="a" style="left:1203px;top:574px;width:112px;height:107px;background:#f9776e;"></div>
<div class="t" style="top:608.50px;height:40px;line-height:40px;font-size:16.9px;color:#111;font-weight:bold;font-style:italic;left:1204.50px;width:110px;text-align:center;">20,00%</div>
<div class="a" style="left:1315px;top:574px;width:130px;height:107px;background:#fcbd7b;"></div>
<div class="t" style="top:608.50px;height:40px;line-height:40px;font-size:16.9px;color:#111;font-weight:bold;font-style:italic;left:1325.50px;width:110px;text-align:center;">10,91%</div>
<div class="a" style="left:1084px;top:681px;width:119px;height:107px;background:#cbdc81;"></div>
<div class="t" style="top:715.50px;height:40px;line-height:40px;font-size:16.9px;color:#111;font-weight:bold;font-style:italic;left:1089.00px;width:110px;text-align:center;">3,33%</div>
<div class="a" style="left:1203px;top:681px;width:112px;height:107px;background:#63be7b;"></div>
<div class="t" style="top:715.50px;height:40px;line-height:40px;font-size:16.9px;color:#111;font-weight:bold;font-style:italic;left:1204.50px;width:110px;text-align:center;">0,00%</div>
<div class="a" style="left:1315px;top:681px;width:130px;height:107px;background:#ffe783;"></div>
<div class="t" style="top:715.50px;height:40px;line-height:40px;font-size:16.9px;color:#111;font-weight:bold;font-style:italic;left:1325.50px;width:110px;text-align:center;">5,45%</div>
<div class="a" style="left:1084px;top:788px;width:119px;height:108px;background:#ffeb84;"></div>
<div class="t" style="top:823.00px;height:40px;line-height:40px;font-size:16.9px;color:#111;font-weight:bold;font-style:italic;left:1089.00px;width:110px;text-align:center;">5,00%</div>
<div class="a" style="left:1203px;top:788px;width:112px;height:108px;background:#ffeb84;"></div>
<div class="t" style="top:823.00px;height:40px;line-height:40px;font-size:16.9px;color:#111;font-weight:bold;font-style:italic;left:1204.50px;width:110px;text-align:center;">5,00%</div>
<div class="a" style="left:1315px;top:788px;width:130px;height:108px;background:#f8696b;"></div>
<div class="t" style="top:823.00px;height:40px;line-height:40px;font-size:16.9px;color:#111;font-weight:bold;font-style:italic;left:1325.50px;width:110px;text-align:center;">21,82%</div>
<div class="a" style="left:1203px;top:467px;width:2px;height:431px;background:#111;"></div>
<div class="a" style="left:1315px;top:467px;width:2px;height:431px;background:#111;"></div>
<div class="a" style="left:1084px;top:574px;width:363px;height:2px;background:#111;"></div>
<div class="a" style="left:1084px;top:681px;width:363px;height:2px;background:#111;"></div>
<div class="a" style="left:1084px;top:788px;width:363px;height:2px;background:#111;"></div>
<div class="a" style="left:1083px;top:466px;width:364px;height:432px;border:2px solid #000;box-sizing:border-box;"></div>
<div class="a" style="left:1523px;top:214px;width:1px;height:705px;background:#c6c6c6;"></div>
<div class="a" style="left:1px;top:920px;width:1523px;height:1px;background:#b4b4b4;"></div>
<div class="a" style="left:1525px;top:188px;width:19px;height:731px;background:#fff;"></div>
<div class="a" style="left:1526px;top:204px;width:15px;height:714px;background:#e8e8e8;"></div>
<div class="a" style="left:1526px;top:189px;width:15px;height:15px;background:#fff;border:1px solid #c6c6c6;box-sizing:border-box;"></div>
<svg class="a" style="left:1530px;top:194px;" width="8" height="5" viewBox="0 0 8 5"><path d="M0 4.5h8l-4-4.5z" fill="#555"/></svg>
<div class="a" style="left:1527px;top:225px;width:13px;height:681px;background:#fff;border:1px solid #c6c6c6;box-sizing:border-box;"></div>
<div class="a" style="left:1526px;top:906px;width:15px;height:13px;background:#fff;border:1px solid #c6c6c6;box-sizing:border-box;"></div>
<svg class="a" style="left:1530px;top:910px;" width="8" height="5" viewBox="0 0 8 5"><path d="M0 0h8l-4 4.5z" fill="#555"/></svg>
<div class="a" style="left:1px;top:921px;width:1543px;height:26px;background:#f3f3f3;"></div>
<svg class="a" style="left:26px;top:929px;" width="5" height="8" viewBox="0 0 5 8"><path d="M4.5 0V8L0 4Z" fill="#c4c4c4"/></svg>
<svg class="a" style="left:54px;top:929px;" width="5" height="8" viewBox="0 0 5 8"><path d="M0 0V8L4.5 4Z" fill="#c4c4c4"/></svg>
<div class="a" style="left:98px;top:919px;width:137px;height:25px;background:#fff;border:1px solid #d0d0d0;border-top:none;box-sizing:border-box;"></div>
<div class="a" style="left:99px;top:942px;width:135px;height:2px;background:#217346;"></div>
<div class="t" style="top:913.00px;height:40px;line-height:40px;font-size:12.4px;color:#217346;font-weight:bold;letter-spacing:-0.020px;left:110.30px;">Excel risk template</div>
<svg class="a" style="left:265px;top:926px;" width="17" height="17" viewBox="0 0 17 17"><circle cx="8.5" cy="8.5" r="7.3" fill="none" stroke="#777" stroke-width="1.2"/><path d="M8.5 4.5V12.5M4.5 8.5H12.5" stroke="#666" stroke-width="1.6"/></svg>
<div class="a" style="left:926.5px;top:929px;width:1.5px;height:1.5px;background:#999;"></div>
<div class="a" style="left:926.5px;top:933px;width:1.5px;height:1.5px;background:#999;"></div>
<div class="a" style="left:926.5px;top:937px;width:1.5px;height:1.5px;background:#999;"></div>
<div class="a" style="left:943px;top:927px;width:581px;height:15px;background:#e8e8e8;border:1px solid #c6c6c6;box-sizing:border-box;"></div>
<div class="a" style="left:957px;top:927px;width:473px;height:15px;background:#fff;border:1px solid #b4b4b4;box-sizing:border-box;"></div>
<div class="a" style="left:943px;top:927px;width:15px;height:15px;background:#fff;border:1px solid #c6c6c6;box-sizing:border-box;"></div>
<svg class="a" style="left:948px;top:931px;" width="4" height="7" viewBox="0 0 4 7"><path d="M4 0V7L0 3.5Z" fill="#555"/></svg>
<div class="a" style="left:1509px;top:927px;width:15px;height:15px;background:#fff;border:1px solid #c6c6c6;box-sizing:border-box;"></div>
<svg class="a" style="left:1515px;top:931px;" width="4" height="7" viewBox="0 0 4 7"><path d="M0 0V7L4 3.5Z" fill="#555"/></svg>
<div class="a" style="left:0px;top:947px;width:1545px;height:23px;background:#217346;"></div>
<div class="t" style="top:938.30px;height:40px;line-height:40px;font-size:10.4px;color:#e8f2ec;letter-spacing:-1.058px;left:8.20px;">READY</div>
<svg class="a" style="left:59px;top:952px;" width="14" height="13" viewBox="0 0 14 13"><rect x="3.5" y="4" width="10" height="8.5" fill="none" stroke="#d9ebe0" stroke-width="1.1"/><path d="M3.5 7H13.5M3.5 9.7H13.5M6.8 4V12.5M10.2 4V12.5" stroke="#d9ebe0" stroke-width="0.9"/><circle cx="3.5" cy="3.5" r="3" fill="#d9ebe0"/></svg>
<div class="a" style="left:1249px;top:947px;width:38px;height:23px;background:#1b5e39;"></div>
<svg class="a" style="left:1261px;top:951px;" width="14" height="14" viewBox="0 0 14 14"><g fill="none" stroke="#e8f2ec" stroke-width="1.2"><rect x="0.6" y="0.6" width="12.8" height="12.8"/><path d="M0.6 4.9H13.4M0.6 9.1H13.4M4.9 0.6V13.4M9.1 0.6V13.4"/></g></svg>
<svg class="a" style="left:1297px;top:951px;" width="15" height="14" viewBox="0 0 15 14"><g fill="none" stroke="#d9ebe0" stroke-width="1.1"><rect x="0.6" y="0.6" width="13.8" height="12.8"/><rect x="3" y="3" width="9" height="8"/><path d="M4.5 5.2H10.5M4.5 7H10.5M4.5 8.8H10.5" stroke-width="0.8"/></g></svg>
<svg class="a" style="left:1334px;top:951px;" width="15" height="14" viewBox="0 0 15 14"><g fill="none" stroke="#d9ebe0" stroke-width="1.1"><rect x="0.6" y="0.6" width="13.8" height="12.8"/></g><rect x="2.5" y="1" width="4" height="6" fill="#d9ebe0"/><rect x="8.5" y="1" width="4" height="6" fill="#d9ebe0"/></svg>
<div class="a" style="left:1365px;top:958px;width:6px;height:2px;background:#e8f2ec;"></div>
<div class="a" style="left:1375px;top:958.5px;width:97px;height:1px;background:#b9d6c4;"></div>
<div class="a" style="left:1427px;top:952px;width:5px;height:13px;background:#e8f2ec;"></div>
<div class="a" style="left:1424px;top:955px;width:1px;height:7px;background:#b9d6c4;"></div>
<div class="a" style="left:1475px;top:958px;width:9px;height:2px;background:#e8f2ec;"></div>
<div class="a" style="left:1478.5px;top:954.5px;width:2px;height:9px;background:#e8f2ec;"></div>
<div class="t" style="top:938.80px;height:40px;line-height:40px;font-size:11.5px;color:#e8f2ec;letter-spacing:-0.738px;left:1497.40px;">140%</div>
</body></html>
